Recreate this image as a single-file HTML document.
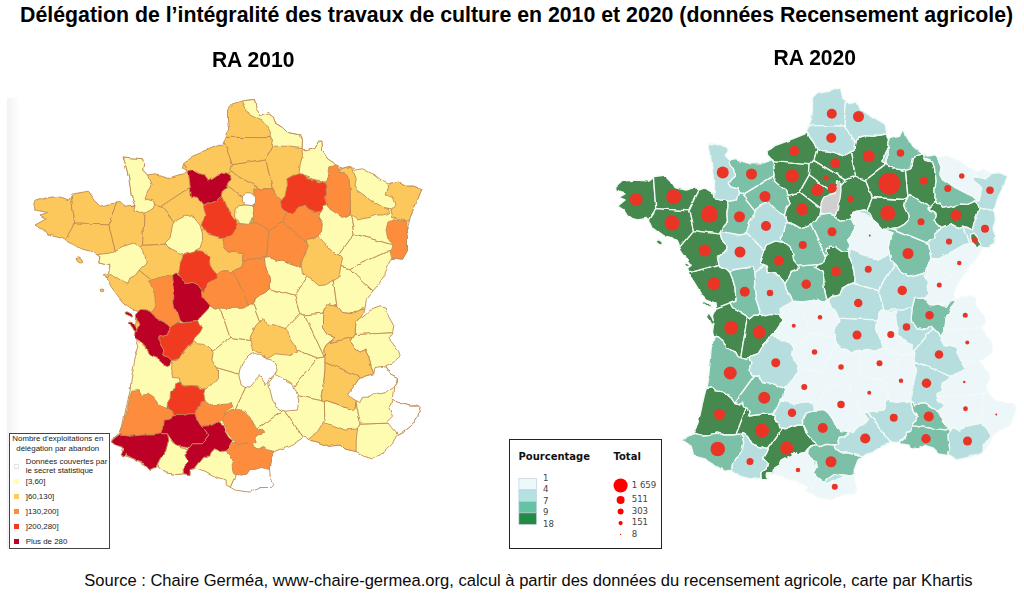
<!DOCTYPE html>
<html lang="fr">
<head>
<meta charset="utf-8">
<title>Délégation de l’intégralité des travaux de culture</title>
<style>
html,body{margin:0;padding:0;background:#fff;}
body{width:1024px;height:595px;position:relative;overflow:hidden;font-family:"Liberation Sans",sans-serif;color:#000;}
.t{position:absolute;white-space:nowrap;line-height:1;}
#title{left:20.1px;top:4.8px;font-weight:bold;font-size:21.3px;}
#ra10{left:211.9px;top:47.8px;font-weight:bold;font-size:21.1px;transform:scaleY(1.065);transform-origin:0 0;}
#ra20{left:773.6px;top:46.2px;font-weight:bold;font-size:21.1px;transform:scaleY(1.065);transform-origin:0 0;}
#src{left:84.2px;top:572.7px;font-size:16.56px;color:#0a0a0a}
#maps{position:absolute;left:0;top:0;}
#leg1{position:absolute;left:9px;top:433px;width:98.6px;height:113.6px;border:1px solid #444;background:#fff;box-sizing:content-box;}
#leg1 .t{font-size:7.9px;color:#222;}
#leg1 .sw{position:absolute;left:4px;width:5.2px;height:5.2px;}
#leg2{position:absolute;left:509px;top:439px;width:150.7px;height:108px;border:1.3px solid #222;background:#fff;}
#leg2 .t{font-family:"DejaVu Sans","Liberation Sans",sans-serif;}
#leg2 .h{font-weight:bold;font-size:10px;color:#111;}
#leg2 .n{font-size:8.6px;color:#444;}
</style>
</head>
<body>
<div id="title" class="t">Délégation de l’intégralité des travaux de culture en 2010 et 2020 (données Recensement agricole)</div>
<div id="ra10" class="t">RA 2010</div>
<div id="ra20" class="t">RA 2020</div>
<svg id="maps" width="1024" height="595" viewBox="0 0 1024 595">
<defs>
<linearGradient id="fade" x1="0" x2="1" y1="0" y2="0"><stop offset="0" stop-color="#f2f2f2"/><stop offset="1" stop-color="#ffffff"/></linearGradient>
<filter id="soft" x="-2%" y="-2%" width="104%" height="104%"><feGaussianBlur stdDeviation="0.5"/></filter>
<filter id="rough" x="-2%" y="-2%" width="104%" height="104%" color-interpolation-filters="sRGB"><feTurbulence type="fractalNoise" baseFrequency="0.07" numOctaves="3" seed="7" result="n"/><feDisplacementMap in="SourceGraphic" in2="n" scale="4" xChannelSelector="R" yChannelSelector="G"/><feGaussianBlur stdDeviation="0.65"/></filter>
</defs>
<rect x="7" y="97.5" width="13" height="451" fill="url(#fade)"/>
<g filter="url(#rough)">
<g stroke="#c08a55" stroke-width="0.9" stroke-linejoin="round">
<path d="M74.7,223.1 71.3,195.7 68.8,200.0 58.8,196.2 42.5,198.8 35.0,201.2 33.8,205.0 35.0,210.0 47.5,212.5 40.0,215.0 46.2,218.8 35.0,225.0 43.8,230.0 47.5,235.0 60.0,238.0 64.9,240.5Z" fill="#fdc85b"/>
<path d="M275.9,137.7 284.8,129.8 282.5,127.5 276.2,123.8 273.8,117.5 268.8,113.8 261.2,116.2 256.2,108.8 254.5,99.5 245.0,100.5 232.5,103.8 227.5,110.0 227.5,120.0 228.8,130.0 226.2,136.2 225.7,137.4Z" fill="#fdc85b"/>
<path d="M74.7,223.1 108.1,223.8 116.9,202.9 110.0,203.8 100.0,206.2 93.8,200.0 87.5,191.2 72.5,193.8 71.3,195.7Z" fill="#fdc85b"/>
<path d="M165.6,329.9 179.2,301.6 125.9,260.0 118.1,260.8 109.7,267.3 108.8,274.2 106.2,278.0 111.2,286.8 117.5,295.5 123.8,303.0 132.5,309.2 140.0,311.8 136.2,320.5 135.0,330.5 136.0,336.4Z" fill="#fdc85b"/>
<path d="M64.9,240.5 72.5,244.2 82.5,249.2 92.5,251.8 100.0,256.8 98.8,263.0 110.0,265.5 109.7,267.3 118.1,260.8 108.1,223.8 74.7,223.1Z" fill="#fdc85b"/>
<path d="M108.1,223.8 118.1,260.8 125.9,260.0 142.6,245.2 144.5,201.8 130.2,187.4 131.2,195.0 135.0,205.0 123.8,206.2 120.0,202.5 116.9,202.9Z" fill="#fdc85b"/>
<path d="M144.5,201.8 161.4,206.1 195.3,183.8 183.7,162.9 182.5,167.5 187.5,171.2 182.5,173.8 170.0,177.5 155.0,173.8 147.5,175.0 142.5,170.0 143.8,163.8 142.5,158.8 132.5,158.0 123.0,157.0 125.0,162.5 128.8,177.5 130.2,187.4Z" fill="#fdc85b"/>
<path d="M182.5,423.9 192.0,364.0 165.6,329.9 136.0,336.4 136.2,338.0 138.8,345.5 135.0,358.0 132.5,373.0 131.2,380.0 130.0,391.2 126.2,407.5 122.5,425.0 120.0,433.8 111.2,441.2 120.0,446.2 122.5,455.0 133.8,458.8 134.6,459.2Z" fill="#fefcb1"/>
<path d="M125.9,260.0 179.2,301.6 194.8,289.5 188.6,243.0 142.6,245.2Z" fill="#fdc85b"/>
<path d="M211.4,222.4 207.0,191.1 195.3,183.8 161.4,206.1 189.6,240.5Z" fill="#fdc85b"/>
<path d="M189.6,240.5 188.6,243.0 194.8,289.5 201.5,290.1 203.0,285.0 203.0,285.0 203.0,285.0 203.0,285.0 203.0,285.0 207.0,280.0 207.0,280.0 207.0,280.0 207.0,280.0 207.0,280.0 207.0,280.0 207.0,280.0 213.7,278.0 216.9,274.4 216.9,274.4 216.9,274.4 221.2,271.2 221.2,271.2 221.2,271.2 221.2,271.2 221.2,271.2 221.2,271.2 227.5,270.6 227.5,270.6 227.5,270.6 227.5,270.6 227.5,270.6 227.5,270.6 227.5,270.6 227.5,270.6 232.5,273.7 235.0,270.0 235.0,270.0 235.0,270.0 235.0,270.0 235.0,270.0 235.0,270.0 235.0,270.0 241.2,267.5 243.1,261.2 242.5,256.3 242.5,256.3 242.5,256.2 242.5,256.2 242.5,256.2 242.5,256.2 242.5,256.2 243.7,253.8 236.2,252.5 228.7,251.9 228.7,251.9 228.7,251.9 228.7,251.9 228.7,251.9 228.7,251.9 228.7,251.9 228.7,251.9 224.4,247.5 224.4,247.5 224.4,247.5 224.4,247.5 224.4,247.5 224.4,247.5 224.4,247.5 224.4,247.5 223.1,238.1 223.1,238.1 223.1,238.1 223.1,238.1 223.1,238.1 223.1,238.1 223.1,238.1 226.0,232.0 226.0,232.0 226.0,232.0 226.0,232.0 230.7,227.3 211.4,222.4Z" fill="#fdc85b"/>
<path d="M161.4,206.1 144.5,201.8 142.6,245.2 188.6,243.0 189.6,240.5Z" fill="#fdc85b"/>
<path d="M165.6,329.9 192.0,364.0 199.1,362.7 230.0,337.3 220.4,308.9 215.0,310.0 215.0,310.0 215.0,310.0 215.0,310.0 215.0,310.0 215.0,310.0 215.0,310.0 215.0,310.0 215.0,310.0 211.2,307.5 204.0,303.0 204.0,303.0 204.0,303.0 204.0,303.0 204.0,303.0 204.0,303.0 204.0,303.0 200.0,295.0 200.0,295.0 200.0,295.0 200.0,295.0 200.0,295.0 200.0,295.0 200.0,295.0 200.0,295.0 200.0,295.0 201.5,290.1 194.8,289.5 179.2,301.6Z" fill="#fefcb1"/>
<path d="M195.3,183.8 207.0,191.1 222.1,181.6 230.7,170.8 232.4,164.7 223.9,140.9 222.5,143.8 207.5,150.0 192.5,156.2 183.8,162.5 183.7,162.9Z" fill="#fdc85b"/>
<path d="M248.3,445.6 244.6,437.9 227.5,426.9 182.5,423.9 134.6,459.2 143.8,463.8 151.2,468.8 157.5,466.2 165.0,472.5 176.2,474.5 183.8,473.8 190.0,474.5 190.0,468.8 195.0,467.5 205.0,471.2 217.5,477.5 226.2,480.0 226.2,485.0 230.0,487.1Z" fill="#fefcb1"/>
<path d="M182.5,423.9 227.5,426.9 250.3,377.2 199.1,362.7 192.0,364.0Z" fill="#fefcb1"/>
<path d="M262.8,370.7 267.4,342.9 230.0,337.3 199.1,362.7 250.3,377.2Z" fill="#fefcb1"/>
<path d="M250.3,377.2 227.5,426.9 244.6,437.9 283.7,410.0 287.7,394.0 262.8,370.7Z" fill="#fefcb1"/>
<path d="M230.7,227.3 232.0,226.0 232.0,226.0 232.0,226.0 232.0,226.0 236.2,223.7 236.2,223.7 236.2,223.7 236.2,223.7 236.2,223.7 243.7,223.1 243.8,223.1 243.8,223.1 251.2,223.7 252.5,220.0 253.1,215.0 253.7,207.5 253.7,207.5 253.7,207.5 254.2,205.6 222.1,181.6 207.0,191.1 211.4,222.4Z" fill="#fdc85b"/>
<path d="M230.0,337.3 267.4,342.9 267.5,342.7 252.7,303.5 246.3,305.0 245.0,307.5 245.0,307.5 245.0,307.5 245.0,307.5 245.0,307.5 245.0,307.5 245.0,307.5 245.0,307.5 245.0,307.5 245.0,307.5 241.9,308.1 241.9,308.1 241.9,308.1 233.8,308.1 228.8,309.4 228.8,309.4 228.8,309.4 228.7,309.4 221.3,308.8 220.4,308.9Z" fill="#fefcb1"/>
<path d="M267.5,342.7 273.7,340.5 299.7,313.6 294.8,296.2 269.4,288.6 269.4,288.8 269.4,288.8 269.4,288.8 269.4,288.8 269.4,288.8 269.4,288.8 269.4,288.8 269.4,288.8 269.4,288.8 269.4,288.8 265.0,292.5 265.0,292.5 265.0,292.5 260.0,295.0 255.0,298.8 254.4,303.1 254.4,303.1 254.4,303.1 254.4,303.1 254.4,303.1 254.4,303.1 254.4,303.1 254.4,303.1 254.4,303.1 254.4,303.1 254.4,303.1 254.4,303.1 254.4,303.1 252.7,303.5Z" fill="#fefcb1"/>
<path d="M267.4,342.9 262.8,370.7 287.7,394.0 288.4,393.8 317.8,358.1 273.7,340.5 267.5,342.7Z" fill="#fefcb1"/>
<path d="M294.8,296.2 317.0,260.6 306.5,248.7 305.0,252.5 304.4,255.0 304.4,255.0 301.9,262.5 301.9,262.5 300.0,267.5 300.0,267.5 300.0,267.5 300.0,267.5 300.0,267.5 300.0,267.5 300.0,267.5 300.0,267.5 300.0,267.5 300.0,267.5 300.0,267.5 300.0,267.5 300.0,267.5 300.0,267.5 300.0,267.5 300.0,267.5 300.0,267.5 300.0,267.5 300.0,267.5 296.2,265.0 288.7,262.5 288.7,262.5 282.5,260.0 277.5,260.6 277.5,260.6 277.5,260.6 277.5,260.6 277.5,260.6 277.5,260.6 270.0,257.5 264.4,258.1 265.0,265.0 267.5,272.5 267.5,272.5 269.4,280.0 269.4,280.0 269.4,280.0 269.4,280.0 269.4,288.6Z" fill="#fefcb1"/>
<path d="M230.7,170.8 222.1,181.6 254.2,205.6 255.0,202.5 255.0,189.4 255.0,189.4 255.0,189.4 255.0,189.4 255.0,189.4 255.0,189.4 255.0,189.4 255.0,189.4 255.0,189.4 255.0,189.4 255.0,189.4 255.0,189.4 255.0,189.4 255.0,189.4 255.0,189.4 255.0,189.4 260.5,188.9Z" fill="#fdc85b"/>
<path d="M260.5,188.9 262.5,188.7 262.5,188.7 272.3,188.7 266.0,158.8 232.4,164.7 230.7,170.8Z" fill="#fdc85b"/>
<path d="M275.9,137.7 225.7,137.4 223.9,140.9 232.4,164.7 266.0,158.8Z" fill="#fdc85b"/>
<path d="M266.0,158.8 272.3,188.7 272.5,188.7 272.5,188.7 272.5,188.7 272.5,188.7 272.5,188.7 272.5,188.7 272.5,188.7 272.5,188.7 272.5,188.7 272.5,188.7 272.5,188.7 272.5,188.7 275.0,193.7 280.0,198.7 280.0,198.7 280.0,198.7 280.0,198.7 281.9,202.5 290.0,200.0 290.0,200.0 290.0,200.0 290.0,200.0 300.0,200.0 300.0,200.0 300.0,200.0 300.0,200.0 306.4,202.1 329.2,183.8 333.8,163.0 327.5,158.8 322.5,151.2 322.0,141.2 318.8,141.2 315.0,147.5 305.0,150.0 302.0,147.5 302.5,140.0 300.0,135.0 287.5,132.5 284.8,129.8 275.9,137.7Z" fill="#fdc85b"/>
<path d="M248.3,445.6 230.0,487.1 235.0,490.0 250.0,492.0 260.0,487.5 271.2,487.5 273.8,485.0 270.0,475.0 269.5,467.5 270.8,459.8Z" fill="#ffffff"/>
<path d="M283.7,410.0 244.6,437.9 248.3,445.6 270.8,459.8 271.2,457.5 275.0,451.2 287.5,446.2 297.5,441.2 303.5,437.3Z" fill="#fefcb1"/>
<path d="M360.3,424.1 356.0,401.5 355.0,407.5 355.0,407.5 355.0,407.5 355.0,407.5 355.0,407.5 355.0,407.5 355.0,407.5 352.5,410.0 352.5,410.0 352.5,410.0 352.5,410.0 352.5,410.0 352.5,410.0 352.5,410.0 352.5,410.0 352.5,410.0 352.5,410.0 352.5,410.0 352.5,410.0 352.5,410.0 342.5,406.3 342.5,406.3 330.0,401.3 324.3,402.2 325.4,444.8 328.8,446.2 340.0,445.0 343.8,448.8ZM353.3,387.3 350.0,393.7 355.6,399.3Z" fill="#fefcb1"/>
<path d="M288.4,393.8 322.1,400.8 321.2,396.3 321.2,396.3 321.2,396.3 321.2,396.2 321.2,396.2 323.7,382.5 325.0,370.0 325.0,357.5 324.9,356.8 324.2,356.7 317.8,358.1Z" fill="#fefcb1"/>
<path d="M299.7,313.6 304.8,315.0 323.2,313.0 323.7,310.0 323.7,310.0 323.7,310.0 323.7,310.0 323.7,310.0 323.7,310.0 328.7,303.7 328.7,303.7 328.7,303.7 328.7,303.7 328.7,303.7 328.7,303.7 328.7,303.7 328.7,303.7 328.7,303.7 328.7,303.7 328.8,303.7 328.8,303.7 336.3,305.0 336.3,305.0 336.3,305.0 336.3,305.0 336.3,305.0 336.3,305.0 336.3,305.0 336.3,305.0 336.8,305.7 331.3,264.6 317.0,260.6 294.8,296.2Z" fill="#fefcb1"/>
<path d="M329.2,183.8 348.8,202.1 412.1,212.5 413.8,207.5 418.8,197.5 422.0,189.5 413.8,186.2 405.0,186.2 397.5,181.2 387.5,183.8 380.0,180.0 372.5,173.8 362.5,168.8 355.0,170.0 350.0,166.2 341.2,168.8 337.5,165.0 335.0,163.8 333.8,163.0Z" fill="#fefcb1"/>
<path d="M329.2,183.8 306.4,202.1 315.0,205.0 315.0,205.0 315.0,205.0 322.0,209.0 322.0,209.0 322.0,209.0 322.0,209.0 322.0,209.0 322.0,209.0 322.0,209.0 322.0,209.0 322.0,209.0 322.0,209.0 322.0,209.0 322.0,209.0 322.0,209.0 322.0,209.0 322.0,209.0 321.3,211.3 321.3,211.3 321.3,211.3 321.3,211.3 318.5,215.0 323.1,222.5 323.1,222.5 323.1,222.5 323.1,222.5 323.1,222.5 323.1,222.5 323.1,222.5 322.5,230.0 322.5,230.0 322.5,230.0 322.5,230.0 322.5,230.0 322.5,230.0 322.5,230.0 318.8,235.0 318.8,235.0 318.8,235.0 318.8,235.0 315.0,237.5 315.0,237.5 315.0,237.5 315.0,237.5 306.3,240.0 307.5,246.2 307.5,246.2 307.5,246.2 307.5,246.3 307.5,246.3 307.5,246.3 307.5,246.3 306.5,248.7 317.0,260.6 331.3,264.6 332.1,264.4 354.1,233.9 348.8,202.1Z" fill="#fefcb1"/>
<path d="M287.7,394.0 283.7,410.0 303.5,437.3 305.0,436.2 308.8,440.0 320.0,442.5 325.4,444.8 324.3,402.2 322.5,402.5 322.5,402.5 322.5,402.5 322.5,402.5 322.5,402.5 322.5,402.5 322.5,402.5 322.5,402.5 322.5,402.5 322.5,402.5 322.5,402.5 322.5,402.5 322.5,402.5 322.5,402.5 322.5,402.5 322.5,402.5 322.5,402.5 322.1,400.8 288.4,393.8Z" fill="#fefcb1"/>
<path d="M273.7,340.5 317.8,358.1 324.2,356.7 304.8,315.0 299.7,313.6Z" fill="#fefcb1"/>
<path d="M360.3,424.1 343.8,448.8 345.0,450.0 356.2,452.5 362.5,456.2 372.5,458.8 380.0,456.2 386.2,450.0 392.5,443.8 396.2,435.0 405.0,430.0 412.5,423.8 413.4,422.3Z" fill="#fefcb1"/>
<path d="M304.8,315.0 324.2,356.7 324.9,356.8 323.7,350.0 323.7,350.0 323.7,350.0 323.7,350.0 323.7,350.0 323.7,350.0 323.7,350.0 326.2,345.0 326.2,345.0 326.2,345.0 326.2,345.0 326.2,345.0 335.0,337.5 327.5,335.0 327.5,335.0 327.5,335.0 327.5,335.0 327.5,335.0 327.5,335.0 327.5,335.0 327.5,335.0 322.5,327.5 322.5,327.5 322.5,327.5 322.5,327.5 322.5,327.5 322.5,327.5 322.5,327.5 322.5,317.5 322.5,317.5 322.5,317.5 323.2,313.0Z" fill="#fefcb1"/>
<path d="M365.3,305.7 366.2,299.2 371.2,293.0 373.0,290.9 349.6,268.6 332.1,264.4 331.3,264.6 336.8,305.7 342.5,312.5 352.5,313.7 360.0,310.0 360.0,310.0 360.0,310.0 360.2,309.9Z" fill="#fefcb1"/>
<path d="M364.2,376.8 357.5,381.3 353.8,386.3 353.3,387.3 355.6,399.3 356.3,400.0 356.3,400.0 356.3,400.0 356.3,400.0 356.3,400.0 356.3,400.0 356.3,400.0 356.3,400.0 356.3,400.0 356.3,400.0 356.3,400.0 356.0,401.5 360.3,424.1 413.4,422.3 417.5,416.2 420.0,407.5 417.5,405.0 410.0,406.2 400.0,403.8 392.5,398.8 393.8,387.5 397.5,382.5 397.5,378.6Z" fill="#fefcb1"/>
<path d="M354.1,233.9 398.1,246.5 407.5,246.0 407.5,238.0 406.2,230.0 408.8,222.5 412.1,212.5 348.8,202.1Z" fill="#fefcb1"/>
<path d="M360.2,309.9 364.8,308.8 364.8,308.8 364.8,308.8 364.8,308.8 364.8,308.8 364.8,308.8 365.0,308.0 365.3,305.7ZM392.7,332.8 393.8,326.8 388.8,318.0 386.2,308.0 380.0,306.8 370.0,310.5 366.2,314.2 360.5,318.5 361.4,317.0 356.3,321.3 355.0,332.5 355.0,332.5 355.0,332.5 355.0,332.5 355.0,332.5 353.8,334.7Z" fill="#fefcb1"/>
<path d="M398.1,246.5 349.6,268.6 373.0,290.9 377.5,285.5 383.8,275.5 388.8,265.5 392.5,258.0 402.5,259.2 407.5,250.5 407.5,246.0Z" fill="#fefcb1"/>
<path d="M353.8,334.7 350.0,341.2 355.0,347.5 360.0,351.2 365.0,348.7 365.0,348.7 365.0,348.7 365.0,348.7 365.0,348.7 365.0,348.7 365.0,348.7 365.0,348.7 365.0,348.7 365.0,348.7 365.0,348.7 365.0,348.7 365.0,348.7 365.0,348.7 365.0,348.7 365.0,348.7 365.0,348.7 368.8,356.2 368.8,356.2 368.8,356.2 371.3,367.5 373.8,373.7 373.8,373.7 373.8,373.7 373.8,373.7 373.8,373.8 373.8,373.8 373.8,373.8 373.8,373.8 373.8,373.8 373.8,373.8 373.8,373.8 373.8,373.8 373.8,373.8 373.8,373.8 373.8,373.8 373.8,373.8 373.8,373.8 373.8,373.8 365.0,376.3 364.2,376.8 397.5,378.6 397.5,377.5 390.0,373.8 385.0,366.2 392.5,362.5 398.8,357.5 400.0,355.5 398.8,350.5 391.2,340.5 388.8,338.0 392.5,334.2 392.7,332.8Z" fill="#fefcb1"/>
<path d="M398.1,246.5 354.1,233.9 332.1,264.4 349.6,268.6Z" fill="#fefcb1"/>
<path d="M233.9,271.7 232.5,273.8 227.5,270.6 221.2,271.2 216.9,274.4 213.8,278.0 207.0,280.0 203.0,285.0 200.0,295.0 204.0,303.0 211.2,307.5 215.0,310.0 221.2,308.8 228.8,309.4 233.8,308.1 241.9,308.1 245.0,307.5 246.2,305.0 248.3,304.5Z" fill="#fd8d3c"/>
<path d="M266.4,257.4 242.9,260.0 243.1,261.2 241.2,267.5 235.0,270.0 233.9,271.7 248.3,304.5 254.4,303.1 255.0,298.8 260.0,295.0 265.0,292.5 269.4,288.8 269.4,280.0 267.5,272.5 265.0,265.0 264.4,258.1 266.9,257.8Z" fill="#fd8d3c"/>
<path d="M266.4,257.4 269.0,230.3 252.2,220.9 251.2,223.8 243.8,223.1 236.2,223.8 232.0,226.0 226.0,232.0 223.1,238.1 224.4,247.5 228.8,251.9 236.2,252.5 243.8,253.8 242.5,256.2 242.9,260.0Z" fill="#fd8d3c"/>
<path d="M282.8,222.7 269.0,230.3 266.4,257.4 266.9,257.8 270.0,257.5 277.5,260.6 282.5,260.0 288.8,262.5 296.2,265.0 300.0,267.5 301.9,262.5 304.4,255.0 305.0,252.5 307.5,246.2 306.7,242.4Z" fill="#fd8d3c"/>
<path d="M269.0,230.3 282.8,222.7 291.1,200.0 290.0,200.0 281.9,202.5 280.0,198.8 275.0,193.8 272.5,188.8 262.5,188.8 255.0,189.4 255.0,193.8 255.0,202.5 253.8,207.5 253.1,215.0 252.5,220.0 252.2,220.9Z" fill="#fd8d3c"/>
<path d="M282.8,222.7 306.7,242.4 306.2,240.0 315.0,237.5 318.8,235.0 322.5,230.0 323.1,222.5 318.5,215.0 321.2,211.2 322.0,209.0 315.0,205.0 300.0,200.0 291.1,200.0Z" fill="#fd8d3c"/>
<path d="M325.0,361.3 325.0,370.0 323.8,382.5 321.2,396.2 322.5,402.5 330.0,401.2 342.5,406.2 352.5,410.0 355.0,407.5 356.2,400.0 350.0,393.8 353.8,386.2 357.5,381.2 362.1,378.2Z" fill="#fdc85b"/>
<path d="M329.0,342.7 326.2,345.0 323.8,350.0 325.0,357.5 325.0,361.3 362.1,378.2 365.0,376.2 373.8,373.8 371.2,367.5 368.8,356.2 365.0,348.8 360.0,351.2 355.0,347.5 350.0,341.2 352.2,337.5Z" fill="#fdc85b"/>
<path d="M352.2,337.5 355.0,332.5 356.2,321.2 361.4,316.9 363.8,313.0 364.8,308.8 360.0,310.0 352.5,313.8 342.5,312.5 336.2,305.0 328.8,303.8 323.8,310.0 322.5,317.5 322.5,327.5 327.5,335.0 335.0,337.5 329.0,342.7Z" fill="#fdc85b"/>
<path d="M246.2,108.8 250.0,115.0 257.5,118.8 262.5,121.2 266.2,125.0 270.0,132.5 272.5,140.0 271.2,146.2 280.0,146.2 290.0,146.2 302.0,147.5 302.5,140.0 300.0,135.0 287.5,132.5 282.5,127.5 276.2,123.8 273.8,117.5 268.8,113.8 261.2,116.2 256.2,108.8 254.5,99.5 245.0,100.5 242.5,101.1 242.5,101.2Z" fill="#fefcb1"/>
<path d="M302.5,155.0 300.0,165.0 298.8,175.0 305.0,176.2 315.0,180.0 326.2,181.2 327.5,175.0 335.0,170.0 338.1,165.6 337.5,165.0 335.0,163.8 327.5,158.8 322.5,151.2 322.0,141.2 318.8,141.2 315.0,147.5 305.0,150.0 302.0,147.5Z" fill="#fefcb1"/>
<path d="M131.0,206.0 135.0,205.0 130.9,205.5ZM133.8,210.0 140.0,212.5 150.0,211.2 155.0,207.5 153.8,201.2 145.0,198.8 147.5,192.5 151.2,185.0 147.5,175.0 142.5,170.0 143.8,163.8 142.5,158.8 132.5,158.0 123.0,157.0 125.0,162.5 128.8,177.5 131.2,195.0 135.0,205.0Z" fill="#fefcb1"/>
<path d="M172.5,225.0 170.0,238.0 165.0,243.0 170.0,249.2 180.0,254.2 192.5,251.8 200.0,248.0 202.5,240.5 202.5,233.8 200.0,225.0 193.8,217.5 185.0,215.0 175.0,220.0Z" fill="#fefcb1"/>
<path d="M97.8,255.3 100.0,256.8 98.8,263.0 110.0,265.5 108.8,274.2 106.2,278.0 106.4,278.2 110.0,275.5 117.5,278.0 122.5,281.8 127.5,284.2 130.0,278.0 135.0,275.5 140.0,269.2 146.2,263.0 145.0,255.5 140.0,246.8 132.5,243.0 120.0,248.0 110.0,253.0 98.0,254.5Z" fill="#fefcb1"/>
<path d="M355.0,400.0 360.0,402.5 362.5,396.2 370.0,396.2 375.0,392.5 380.0,393.8 386.2,392.5 392.5,388.8 396.2,383.8 397.5,377.5 390.0,373.8 387.5,370.0 383.8,366.2 375.0,367.5 373.8,373.8 365.0,376.2 357.5,381.2 353.8,386.2 347.5,395.0Z" fill="#ffffff"/>
<path d="M392.5,416.2 387.5,421.2 392.5,427.5 397.5,433.8 405.0,430.0 412.5,423.8 417.5,416.2 420.0,407.5 418.8,406.2 410.0,406.2 400.0,403.8 393.4,399.4 388.8,407.5Z" fill="#ffffff"/>
<path d="M238.8,375.0 240.0,380.0 241.2,385.0 245.0,387.5 250.0,388.1 253.8,383.8 256.2,378.8 260.0,375.6 262.5,380.0 266.2,385.0 268.8,380.0 272.5,376.2 278.0,372.5 277.5,367.5 275.0,362.5 271.2,360.0 267.5,358.8 258.8,355.0 253.8,352.5 250.0,355.0 246.2,358.8 242.5,363.8 240.0,368.8Z" fill="#ffffff"/>
<path d="M270.0,390.0 272.5,400.0 277.5,407.5 285.0,411.2 297.5,410.0 298.8,400.0 296.2,391.2 291.2,383.8 282.5,378.8 275.0,375.0 268.8,382.5Z" fill="#ffffff"/>
<path d="M253.8,350.0 260.0,353.8 267.5,358.8 275.0,353.8 287.5,355.0 297.5,351.2 295.0,345.0 290.0,337.5 286.2,328.8 275.0,325.0 266.2,323.8 263.8,317.5 256.2,325.0 250.0,337.5Z" fill="#fdc85b"/>
<path d="M356.2,440.0 357.5,428.8 345.0,430.0 332.5,425.0 323.8,422.5 317.5,432.5 308.8,440.0 320.0,442.5 328.8,446.2 340.0,445.0 345.0,450.0 356.2,452.5Z" fill="#fdc85b"/>
<path d="M190.0,344.4 185.0,350.0 181.2,355.0 176.9,360.6 171.9,362.5 173.1,365.0 171.9,372.5 172.5,377.5 179.4,378.1 180.0,381.2 183.8,385.6 190.0,386.2 197.5,385.6 202.5,389.4 206.2,388.8 212.5,383.8 217.5,377.5 217.5,370.0 215.0,365.6 211.9,360.0 213.1,353.1 208.8,348.8 203.8,344.4 197.5,343.8 193.8,340.6Z" fill="#fdc85b"/>
<path d="M307.5,246.2 305.0,252.5 302.5,258.8 301.2,265.0 302.5,273.8 307.5,277.5 313.8,281.2 318.8,285.6 325.0,285.0 332.5,281.2 338.8,277.5 340.0,271.2 341.2,265.0 342.5,257.5 340.0,255.0 333.8,252.5 327.5,248.8 326.2,243.8 321.2,238.1 318.8,235.0 315.0,237.5 306.2,240.0Z" fill="#fdc85b"/>
<path d="M340.0,172.5 345.0,173.1 348.8,178.8 350.0,188.8 350.0,197.5 350.6,213.8 355.0,216.2 357.5,220.0 362.5,218.8 370.0,217.5 376.2,215.0 382.5,215.0 387.5,213.8 390.6,211.9 388.8,210.0 382.5,207.5 376.2,203.8 370.0,200.0 365.0,195.0 357.5,190.0 355.0,185.0 356.2,178.8 353.8,172.5 351.2,167.5 347.0,167.1 341.2,168.8Z" fill="#fdc85b"/>
<path d="M386.2,195.0 392.5,197.5 395.0,205.0 391.2,210.0 392.5,217.5 400.0,220.0 408.8,221.2 410.3,217.8 413.8,207.5 418.8,197.5 422.0,189.5 413.8,186.2 405.0,186.2 397.5,181.2 389.2,183.3 387.5,190.0Z" fill="#fdc85b"/>
<path d="M152.5,288.8 155.0,297.5 155.6,305.0 153.8,308.8 151.2,313.8 156.2,318.8 162.5,321.9 168.1,325.0 170.0,327.5 176.2,322.5 180.0,322.0 180.0,316.0 176.0,300.0 176.0,282.0 171.9,276.9 166.2,276.2 158.8,277.5 149.4,281.2Z" fill="#fd8d3c"/>
<path d="M386.0,230.0 388.0,238.0 392.0,245.0 390.0,252.0 392.5,258.0 402.5,259.2 407.5,250.5 407.5,238.0 406.2,230.0 407.0,222.0 395.0,220.0 388.0,222.0Z" fill="#fd8d3c"/>
<path d="M223.8,425.0 226.2,431.2 230.0,436.2 235.0,441.9 238.8,445.0 245.0,443.1 252.5,443.8 256.2,442.5 255.0,438.8 256.2,435.0 261.2,434.4 265.6,431.9 263.8,429.4 257.5,429.4 253.8,425.0 250.0,417.5 245.0,412.5 238.8,409.4 231.9,410.6 225.0,413.1 221.2,420.0Z" fill="#fd8d3c"/>
<path d="M230.0,455.0 233.8,461.2 231.2,467.5 232.5,472.5 240.0,476.2 246.2,475.0 250.0,469.5 255.0,469.4 261.2,467.5 269.4,469.4 269.4,465.0 270.7,460.6 271.2,457.5 274.7,451.8 267.5,449.4 263.1,447.5 258.8,450.0 253.8,448.1 252.5,443.8 245.0,443.1 238.8,445.0 235.0,442.5 230.0,445.0 225.0,450.0Z" fill="#fd8d3c"/>
<path d="M130.0,396.2 127.5,407.5 125.0,418.8 122.5,427.5 120.0,434.4 130.0,436.2 142.5,435.0 155.0,435.0 160.6,433.8 162.5,427.5 163.1,419.4 170.0,418.1 173.8,415.6 172.5,411.2 166.9,407.5 163.8,406.2 158.8,405.0 155.0,399.4 147.5,394.4 140.0,395.0 138.1,390.6 131.9,391.2Z" fill="#fd8d3c"/>
<path d="M196.2,417.5 198.8,422.5 201.2,426.2 205.0,425.0 211.2,426.2 217.5,422.5 222.5,418.8 225.0,412.5 233.0,407.5 231.2,402.5 221.2,403.8 212.5,405.0 205.0,399.4 201.2,401.9 200.0,406.2 196.2,410.0 195.0,413.8Z" fill="#fd8d3c"/>
<path d="M327.5,176.2 325.0,181.2 326.9,186.2 327.5,193.1 325.0,197.5 325.6,202.5 327.5,207.5 335.0,212.5 342.5,217.5 350.0,213.8 350.6,210.0 350.0,197.5 350.0,188.8 348.8,178.8 345.0,173.1 340.0,172.5 338.3,165.8 337.6,165.1 328.8,166.9Z" fill="#fd8d3c"/>
<path d="M168.8,440.0 167.5,445.0 166.2,450.0 163.8,453.8 160.0,458.8 157.5,463.8 158.7,467.2 160.5,468.8 166.0,472.7 176.2,474.5 182.6,473.9 183.1,473.8 183.8,467.5 188.1,462.5 185.0,455.0 188.8,448.8 180.0,446.2 172.5,442.5 170.0,436.2 167.5,433.8Z" fill="#fefcb1"/>
<path d="M206.2,215.0 203.8,218.0 201.2,225.0 207.5,233.8 220.0,237.5 228.0,236.5 233.8,232.5 236.2,227.5 236.9,221.2 233.8,217.5 230.0,212.5 226.2,205.0 223.8,198.8 221.2,196.2 217.5,201.2 210.0,203.1 203.1,205.6Z" fill="#f03b20"/>
<path d="M189.4,181.2 190.6,189.4 191.2,196.2 197.5,197.5 200.6,203.1 203.1,205.6 210.0,203.1 217.5,201.2 221.2,196.2 222.5,190.0 226.2,188.1 228.1,182.5 231.2,179.4 230.6,175.6 226.9,173.1 220.6,171.9 216.2,175.6 209.4,180.0 205.6,175.0 200.0,173.8 193.8,170.6 188.1,171.9Z" fill="#bd0026"/>
<path d="M287.5,185.0 286.2,190.0 285.0,196.2 280.6,201.2 281.2,206.2 285.0,211.2 292.5,213.1 298.8,206.9 305.0,205.6 307.5,210.0 313.8,212.5 321.2,211.2 323.8,206.9 327.5,205.0 325.6,202.5 325.0,197.5 327.5,193.1 326.9,186.2 325.0,181.2 317.5,181.9 313.8,180.0 307.5,178.8 302.5,175.0 293.8,175.0 286.9,178.8Z" fill="#f03b20"/>
<path d="M181.9,260.0 179.4,266.2 177.5,273.1 180.0,276.2 183.8,280.0 185.0,283.8 193.1,282.5 198.1,285.0 202.5,291.2 205.0,292.5 207.5,283.8 211.9,280.6 216.2,278.1 216.2,273.8 212.5,269.4 210.0,265.0 209.4,258.8 206.2,255.0 202.5,251.2 196.2,250.6 189.4,252.5 183.1,254.4Z" fill="#f03b20"/>
<path d="M173.1,281.2 174.4,287.5 173.8,296.2 173.8,303.8 175.0,308.8 178.1,313.8 180.0,320.0 185.0,323.1 190.0,321.2 197.5,320.6 200.0,317.5 206.2,311.2 210.6,306.2 207.5,302.5 203.1,297.5 202.5,291.2 198.1,285.0 193.1,282.5 185.0,283.8 183.8,280.0 180.0,276.2 176.2,273.8 172.5,276.2Z" fill="#bd0026"/>
<path d="M141.2,309.4 136.2,315.0 136.9,319.4 138.8,325.0 136.9,330.0 135.0,333.1 134.4,337.5 138.1,340.0 142.5,343.1 147.5,348.8 148.8,352.5 151.2,355.0 157.5,357.5 158.8,361.2 162.5,363.8 167.5,365.6 171.2,363.8 171.2,360.0 168.8,357.5 163.8,355.0 165.0,350.0 162.5,346.2 160.0,341.2 160.0,336.2 165.0,335.0 168.8,333.8 170.0,327.5 168.1,325.0 162.5,321.9 156.2,318.8 151.2,313.8 147.5,310.0Z" fill="#bd0026"/>
<path d="M168.8,333.8 165.0,335.0 160.0,336.2 160.0,341.2 162.5,346.2 165.0,350.0 163.8,355.0 168.8,357.5 171.2,360.0 173.8,361.2 178.8,358.8 181.2,355.0 184.4,350.0 187.5,346.2 191.9,341.2 196.2,336.2 200.0,332.5 202.5,327.5 199.4,325.0 197.5,320.6 190.0,321.2 185.0,323.1 176.2,322.5 170.0,327.5Z" fill="#f03b20"/>
<path d="M175.0,388.8 170.6,392.5 170.0,398.8 167.5,402.5 166.9,407.5 172.5,411.2 173.8,415.6 182.5,415.6 190.0,413.8 195.0,413.8 196.2,410.0 200.0,406.2 201.2,401.9 205.0,399.4 203.8,393.8 205.0,388.8 200.0,389.4 197.5,386.2 191.2,385.6 183.8,386.2 180.0,381.9 175.6,383.8Z" fill="#f03b20"/>
<path d="M162.5,427.5 160.6,433.8 167.5,433.8 170.0,437.5 172.5,441.2 176.2,445.0 185.0,446.2 190.0,447.5 192.5,443.8 201.2,443.8 205.0,440.0 208.8,435.0 205.0,430.0 201.2,426.2 198.8,422.5 196.2,417.5 195.0,413.8 190.0,413.8 182.5,415.6 173.8,415.6 170.0,418.1 163.1,419.4Z" fill="#bd0026"/>
<path d="M120.0,435.0 115.0,438.8 111.2,441.9 116.2,445.6 121.2,446.9 122.5,450.0 120.0,455.0 123.8,456.9 125.0,454.4 133.8,458.8 143.8,462.5 150.0,469.4 156.2,467.5 157.5,463.8 160.0,458.8 163.8,453.8 166.2,450.0 167.5,445.0 168.8,440.0 167.5,433.8 160.6,433.8 155.0,435.0 142.5,435.0 130.0,436.2Z" fill="#bd0026"/>
<path d="M205.0,430.0 208.8,435.0 205.0,440.0 201.2,443.8 192.5,443.8 188.8,448.8 185.0,455.0 188.1,462.5 183.1,468.1 183.7,473.8 183.8,473.8 189.2,474.4 190.0,474.4 190.0,468.8 195.0,467.5 198.8,462.5 203.8,456.2 208.8,456.2 210.0,452.5 213.8,448.8 217.5,450.6 225.0,450.0 230.0,445.0 232.5,440.6 228.8,437.5 225.0,431.2 221.2,423.8 217.5,421.9 211.2,425.6 201.2,426.2Z" fill="#bd0026"/>
<path d="M242.5,196.0 242.5,201.0 245.0,205.0 252.0,205.6 255.5,203.0 255.6,197.0 252.0,194.0 246.0,193.8Z" fill="#ffffff"/>
<path d="M238.0,206.0 236.0,210.0 235.6,217.0 240.0,223.5 249.0,224.4 252.0,218.0 253.8,210.0 252.0,205.6 245.0,205.0Z" fill="#fefcb1"/>
<path d="M125.0,312.5 125.5,314.0 129.0,315.6 133.0,317.2 133.8,316.0 131.0,313.8 127.0,311.8Z" fill="#bd0026"/>
<path d="M129.4,322.5 130.0,325.0 132.0,328.0 134.5,332.0 136.9,332.5 136.5,329.0 134.0,325.0 131.5,322.0Z" fill="#bd0026"/>
<path d="M76.0,258.5 77.0,261.0 80.0,263.0 82.5,262.5 82.0,260.0 79.0,257.8Z" fill="#fdc85b"/>
<path d="M103.5,275.5 104.5,278.0 107.5,279.0 108.5,277.5 106.0,275.0Z" fill="#fdc85b"/>
<path d="M100.0,289.5 101.0,291.8 104.0,291.0 103.0,289.0Z" fill="#fdc85b"/>
</g>
<g stroke="#f2faf7" stroke-width="1.35" stroke-linejoin="round">
<path d="M655.8,208.7 653.5,177.7 648.8,181.2 637.5,180.0 622.5,181.2 615.5,187.5 616.2,191.2 625.0,193.8 618.8,197.5 625.0,200.0 617.5,206.2 623.8,210.0 627.5,216.2 637.5,218.8 646.2,217.5 648.3,220.2Z" fill="#46894f"/>
<path d="M655.8,208.7 689.0,210.9 699.3,189.8 692.5,188.0 685.0,190.0 675.0,187.5 671.2,181.2 666.2,176.2 653.8,177.5 653.5,177.7Z" fill="#46894f"/>
<path d="M693.5,230.6 689.0,210.9 655.8,208.7 648.3,220.2 650.0,222.5 652.5,228.0 662.5,235.5 672.5,238.0 677.5,241.8 679.7,247.1Z" fill="#46894f"/>
<path d="M730.1,302.8 730.0,302.5 736.2,300.0 735.6,297.5 735.0,287.5 732.5,278.8 730.0,272.5 726.2,268.8 720.0,266.2 719.1,264.4 689.1,272.8 690.0,275.5 696.2,285.5 701.2,294.2 707.5,300.5 715.0,303.0 716.0,308.0 715.8,308.4Z" fill="#46894f"/>
<path d="M689.0,210.9 693.5,230.6 720.5,234.1 720.0,231.9 723.1,226.2 727.5,221.2 726.9,213.8 728.1,206.2 727.5,200.6 721.2,200.0 715.6,198.8 713.9,193.0 710.0,191.2 705.0,188.0 700.0,190.0 699.3,189.8Z" fill="#46894f"/>
<path d="M679.7,247.1 680.0,248.0 685.0,255.5 687.5,260.5 691.2,265.5 687.5,268.0 689.1,272.8 719.1,264.4 718.8,263.8 717.5,256.2 723.8,253.8 726.9,250.0 726.9,246.2 723.1,242.5 721.2,237.5 720.5,234.1 693.5,230.6Z" fill="#46894f"/>
<path d="M747.4,316.5 746.2,315.6 740.0,311.9 732.5,307.5 730.1,302.8 715.8,308.4 712.5,315.5 713.5,324.0 712.5,333.0 713.5,336.9 716.9,336.5 722.5,341.2 726.9,347.5 730.0,349.4 736.2,351.9 737.5,355.0 740.8,357.5Z" fill="#46894f"/>
<path d="M740.8,357.5 742.5,358.8 746.2,360.6 750.0,357.5 752.5,355.6 757.5,353.8 761.2,347.5 767.5,341.2 770.0,336.2 776.2,330.6 780.0,325.0 783.1,321.9 780.6,318.8 779.4,314.4 777.5,315.0 770.0,314.4 765.0,315.6 755.0,315.0 750.6,318.8 747.4,316.5Z" fill="#46894f"/>
<path d="M763.1,252.0 761.2,257.5 759.4,263.1 766.2,266.2 767.5,272.5 775.0,273.8 780.0,276.2 785.0,283.8 788.8,277.5 791.2,272.5 797.5,270.0 798.8,266.2 793.8,260.0 792.5,253.8 790.0,247.5 783.8,242.5 775.0,241.2 766.2,245.0Z" fill="#46894f"/>
<path d="M828.1,253.8 825.6,256.2 823.8,261.9 817.5,263.8 815.0,267.5 821.9,271.2 823.8,278.8 823.8,286.2 825.6,295.0 827.5,300.6 831.2,296.9 838.8,295.0 841.2,288.8 847.5,285.0 853.8,282.5 854.4,273.8 852.5,265.0 849.4,257.5 848.8,251.2 842.5,251.2 836.2,246.9 831.2,246.2 826.2,248.8Z" fill="#46894f"/>
<path d="M799.7,191.8 787.2,195.5 790.0,202.5 786.2,208.8 784.4,215.0 786.2,221.2 790.0,222.5 795.0,225.0 800.0,228.1 806.2,226.2 811.2,223.8 816.9,221.2 820.0,216.2 820.6,211.9 822.5,213.8 827.4,213.4Z" fill="#46894f"/>
<path d="M799.7,191.8 809.4,174.7 810.1,164.7 772.7,161.7 773.8,167.5 775.0,175.0 774.4,181.2 778.8,185.0 785.0,190.0 787.0,195.0 787.2,195.5Z" fill="#46894f"/>
<path d="M799.7,191.8 827.4,213.4 828.5,213.3 834.1,193.3 809.4,174.7Z" fill="#46894f"/>
<path d="M810.1,164.7 813.8,160.3 817.3,148.5 816.2,148.1 813.8,142.5 810.0,137.5 806.3,131.2 805.0,133.8 790.0,140.0 775.0,145.5 767.0,151.2 767.5,155.0 772.5,160.5 772.3,160.6 772.5,160.6 772.7,161.7Z" fill="#46894f"/>
<path d="M872.3,197.5 865.5,180.3 855.4,176.0 846.0,179.9 834.1,193.3 828.5,213.3 831.2,213.1 835.0,214.4 836.9,218.8 840.0,221.2 846.2,220.6 851.2,218.8 853.1,212.5 860.0,210.6 865.0,210.0 867.0,211.5Z" fill="#46894f"/>
<path d="M809.4,174.7 834.1,193.3 846.0,179.9 813.8,160.3 810.1,164.7Z" fill="#46894f"/>
<path d="M855.4,176.0 865.5,180.3 886.6,164.4 883.1,162.5 884.4,153.8 887.5,147.5 888.1,142.5 889.8,138.4 888.0,138.8 886.8,136.2 886.6,134.3 886.2,134.0 880.0,135.0 872.5,136.2 863.8,135.6 857.5,137.5 855.6,143.8 855.0,148.8 853.8,150.6 850.4,152.0Z" fill="#46894f"/>
<path d="M846.0,179.9 855.4,176.0 850.4,152.0 847.5,153.1 842.5,155.6 837.5,153.1 830.0,151.2 822.5,150.6 817.3,148.5 813.8,160.3Z" fill="#46894f"/>
<path d="M872.3,197.5 867.0,211.5 870.0,213.8 872.5,219.4 877.5,223.8 882.5,229.4 890.0,228.8 898.8,227.5 905.0,223.8 908.1,220.6 908.1,215.0 905.0,208.8 903.1,203.8 906.3,199.5Z" fill="#46894f"/>
<path d="M872.3,197.5 906.3,199.5 906.9,198.8 908.0,197.7 905.5,169.2 902.5,170.0 896.2,168.8 890.0,166.2 886.6,164.4 865.5,180.3Z" fill="#46894f"/>
<path d="M908.0,197.7 910.6,195.0 915.0,197.5 922.5,202.5 928.8,205.6 926.9,208.1 927.9,209.2 935.4,202.2 936.2,200.0 935.0,199.0 935.0,190.0 936.2,181.2 935.6,175.0 934.4,167.5 932.5,161.9 926.2,160.6 924.4,157.5 923.4,154.4 922.5,153.8 921.2,154.4 915.6,155.6 913.1,160.0 911.9,166.2 910.0,168.1 905.5,169.2Z" fill="#46894f"/>
<path d="M927.9,209.2 930.0,211.2 933.8,213.1 936.2,216.2 935.0,221.2 937.5,223.8 941.2,227.5 950.0,223.8 957.5,228.1 962.5,226.2 967.5,227.5 972.5,230.0 973.8,223.8 976.9,216.2 979.4,208.1 976.2,200.6 967.5,204.4 961.2,203.8 950.0,206.9 942.5,208.1 940.0,203.8 935.0,203.1 935.4,202.2Z" fill="#46894f"/>
<path d="M746.3,407.9 743.8,406.9 742.5,401.9 740.0,403.8 735.0,402.5 731.2,396.9 725.0,391.9 715.6,390.6 712.5,387.5 706.0,388.7 703.8,397.5 700.0,415.0 696.2,427.5 693.2,433.3 697.5,434.4 703.8,435.0 710.0,434.4 717.5,433.1 725.0,435.0 733.8,435.0 736.1,434.6Z" fill="#46894f"/>
<path d="M767.5,449.0 768.1,449.4 766.2,453.8 762.5,458.8 767.5,464.4 766.2,468.8 760.6,473.1 761.1,479.3 761.2,479.5 767.5,480.0 767.5,473.1 773.1,472.5 773.8,468.1 778.8,465.0 781.2,460.0 785.0,458.1 788.8,460.0 788.1,456.9 791.9,455.6 793.8,451.9 798.1,453.8 805.0,452.5 807.5,449.4 811.2,445.6 816.2,445.0 816.9,443.8 810.0,438.8 805.0,432.5 802.5,425.0 797.5,425.0 791.2,427.5 785.0,428.8 782.4,427.9Z" fill="#46894f"/>
<path d="M736.1,434.6 737.5,434.4 742.5,433.8 747.5,437.5 751.2,443.8 758.8,446.2 766.2,448.1 767.5,449.0 782.4,427.9 781.2,427.5 778.8,426.2 777.5,421.2 773.8,419.4 774.4,416.2 771.2,413.8 762.5,414.4 755.0,415.0 749.4,416.2 751.2,411.9 750.0,409.4 746.3,407.9Z" fill="#46894f"/>
<path d="M742.7,194.6 737.9,193.3 738.1,195.0 736.2,200.0 728.8,201.2 727.6,201.7 728.1,206.2 726.9,213.8 727.5,221.2 723.1,226.2 720.0,231.9 722.5,231.9 730.0,233.1 738.8,235.0 745.0,233.8 748.1,227.5 750.0,221.2 753.8,216.2 755.0,210.1Z" fill="#7cc0a8"/>
<path d="M742.7,194.6 755.0,210.1 755.0,210.0 760.0,206.2 765.0,203.8 770.0,203.1 772.5,207.5 778.8,212.5 783.8,215.0 784.5,214.6 786.2,208.8 790.0,202.5 787.0,195.0 785.0,190.0 778.8,185.0 774.4,181.2 775.0,175.2Z" fill="#7cc0a8"/>
<path d="M742.7,194.6 775.0,175.2 775.0,175.0 773.8,167.5 772.5,160.6 772.3,160.6 762.5,163.8 750.0,163.8 735.0,159.5 730.3,161.1 730.0,165.0 734.4,168.8 735.6,175.0 731.2,178.8 728.1,183.1 730.6,186.9 737.5,188.8 737.9,193.3Z" fill="#7cc0a8"/>
<path d="M760.0,312.5 758.1,305.0 756.2,300.0 755.0,293.8 754.4,286.2 755.6,280.0 755.0,272.5 753.1,266.9 747.5,267.5 738.8,268.8 732.5,270.0 729.9,272.4 730.0,272.5 732.5,278.8 735.0,287.5 735.6,297.5 736.2,300.0 730.0,302.5 732.5,307.5 740.0,311.9 746.2,315.6 750.6,318.8 755.0,315.0 758.5,315.2Z" fill="#7cc0a8"/>
<path d="M797.9,265.2 798.8,266.2 797.5,270.0 791.8,272.3 790.5,274.0 788.8,277.5 785.2,283.4 785.0,284.4 786.2,290.0 791.2,295.0 793.8,301.2 802.5,301.9 812.5,300.6 817.5,299.4 823.8,301.2 827.5,300.6 825.6,295.0 823.8,286.2 823.8,278.8 821.9,271.2 815.0,267.5 817.5,263.8 818.9,263.3ZM828.9,299.2 827.5,300.6 829.0,300.0Z" fill="#7cc0a8"/>
<path d="M818.9,263.3 823.8,261.9 825.5,256.4 810.8,224.0 806.2,226.2 800.0,228.1 795.0,225.0 790.0,222.5 786.2,221.2 785.0,226.2 783.8,232.5 780.0,238.8 781.0,241.0 782.9,242.4 783.8,242.5 790.0,247.5 792.5,253.8 793.7,259.6 793.9,260.2 797.9,265.2Z" fill="#7cc0a8"/>
<path d="M825.5,256.4 825.6,256.2 827.5,254.3 827.8,253.0 826.2,248.8 831.2,246.2 836.2,246.9 842.5,251.2 848.4,251.2 848.8,250.0 850.0,245.0 847.5,240.0 851.2,236.2 853.8,232.5 855.0,226.2 851.2,218.8 846.2,220.6 840.0,221.2 836.9,218.8 835.0,214.4 831.2,213.1 824.7,213.6 822.0,214.0 820.2,214.9 820.0,216.2 816.9,221.2 811.2,223.8 810.8,224.0Z" fill="#7cc0a8"/>
<path d="M924.3,155.0 924.2,155.0 923.4,154.4 924.3,157.2ZM920.5,152.5 913.0,146.2 906.8,136.2 904.2,128.8 900.5,136.2 888.0,138.8 889.8,138.4 888.1,142.5 887.5,147.5 887.0,148.5 887.0,164.6 890.0,166.2 896.2,168.8 902.5,170.0 910.0,168.1 911.9,166.2 913.1,160.0 915.6,155.6 921.2,154.4 922.5,153.8 923.1,154.2Z" fill="#7cc0a8"/>
<path d="M930.0,160.0 930.0,161.4 932.5,161.9 934.4,167.5 935.6,175.0 936.2,181.2 935.0,190.0 935.0,199.0 936.2,200.0 935.0,203.1 940.0,203.8 942.5,208.1 950.0,206.9 961.2,203.8 967.5,204.4 976.2,200.6 976.9,202.2 978.0,200.0 975.0,197.5 967.5,193.8 960.0,190.0 955.0,187.5 950.0,183.8 942.5,178.8 940.0,173.8 941.2,167.5 938.8,161.2 937.0,155.8 934.9,154.8 934.1,154.5 928.0,156.2 924.5,155.1 924.5,157.7 924.8,158.1Z" fill="#7cc0a8"/>
<path d="M892.1,228.5 890.0,228.8 883.3,229.3 884.0,230.0 893.0,233.0 890.0,238.0 888.0,248.0 890.5,260.5 898.0,268.0 901.0,272.5 908.5,276.2 914.8,275.0 923.5,272.5 927.2,267.5 931.0,258.8 929.8,251.2 929.0,244.4 926.2,243.8 927.2,242.8Z" fill="#7cc0a8"/>
<path d="M927.2,242.8 930.0,240.0 936.2,238.8 935.0,235.0 938.8,231.2 941.2,227.5 937.5,223.8 935.0,221.2 936.2,216.2 933.8,213.1 930.0,211.2 926.9,208.1 928.8,205.6 922.5,202.5 915.0,197.5 910.6,195.0 906.9,198.8 903.1,203.8 905.0,208.8 908.1,215.0 908.1,220.6 905.0,223.8 898.8,227.5 892.1,228.5Z" fill="#7cc0a8"/>
<path d="M911.0,320.0 917.2,328.8 926.0,330.0 930.4,325.6 937.2,332.5 940.4,336.2 943.5,332.5 944.8,321.2 945.4,316.2 949.8,312.5 951.0,307.5 955.4,302.5 954.8,300.0 951.0,300.6 946.0,306.2 939.1,305.0 932.2,306.2 923.5,296.9 914.8,297.5 912.2,307.5Z" fill="#7cc0a8"/>
<path d="M754.8,375.0 752.5,375.0 750.0,371.2 751.9,363.8 750.0,358.1 749.7,357.8 746.2,360.6 742.5,358.8 737.5,355.0 736.2,351.9 730.0,349.4 726.9,347.5 722.5,341.2 716.9,336.5 713.5,336.9 713.8,338.0 711.2,348.0 710.0,363.0 708.8,375.0 707.5,378.8 706.2,387.5 705.1,392.0 706.0,388.7 712.5,387.5 715.6,390.6 725.0,391.9 731.2,396.9 734.9,402.3Z" fill="#7cc0a8"/>
<path d="M734.9,402.3 735.0,402.5 740.0,403.8 742.5,401.9 743.8,406.9 750.0,409.4 751.2,411.9 749.4,416.2 755.0,415.0 762.5,414.4 771.2,413.8 772.3,414.6 772.5,414.4 774.4,411.2 778.1,405.0 780.0,400.0 783.1,396.9 783.8,392.5 785.0,388.8 782.5,387.5 778.1,386.2 775.0,383.1 768.8,383.8 762.5,382.5 760.0,378.1 758.8,375.0 754.8,375.0Z" fill="#7cc0a8"/>
<path d="M735.0,458.8 740.0,453.8 742.5,448.8 743.8,442.5 742.5,437.5 739.9,434.1 737.5,434.4 733.8,435.0 725.0,435.0 717.5,433.1 710.0,434.4 703.8,435.0 697.5,434.4 693.2,433.3 693.3,433.1 693.0,433.8 682.5,440.0 691.2,446.2 693.8,456.2 705.0,458.8 715.0,465.0 723.8,471.2 731.6,470.1 732.5,463.8Z" fill="#7cc0a8"/>
<path d="M805.6,431.2 807.0,435.1 810.0,438.8 816.9,443.8 816.5,444.6 820.0,446.9 826.2,444.4 835.0,445.0 838.8,443.8 838.1,440.0 839.4,436.2 844.4,435.6 848.8,433.1 847.5,431.2 840.0,430.6 836.2,426.2 832.5,418.8 828.1,412.5 821.9,409.4 813.8,410.6 806.2,413.1 802.5,420.6 802.5,425.0Z" fill="#7cc0a8"/>
<path d="M807.5,453.8 810.0,457.5 815.0,461.2 816.2,467.5 813.0,472.5 818.0,477.5 824.2,482.5 828.0,478.8 835.5,473.8 843.0,475.0 850.0,476.0 854.2,474.8 854.2,470.0 858.0,460.0 861.9,456.9 853.8,454.4 847.5,452.5 841.9,453.1 836.9,450.0 835.0,445.0 826.2,444.4 820.0,446.9 816.6,444.3 816.2,445.0 813.2,445.4 811.2,446.2 808.0,449.0Z" fill="#7cc0a8"/>
<path d="M911.8,425.7 910.6,431.2 905.6,432.5 903.8,438.1 898.3,442.5 908.0,443.8 910.5,447.5 918.0,448.8 924.2,446.2 933.0,448.8 938.0,453.8 948.0,455.5 948.6,455.7 950.0,450.0 948.8,442.5 948.1,435.0 949.8,430.4Z" fill="#7cc0a8"/>
<path d="M949.8,430.4 950.0,430.0 946.2,426.2 942.5,421.2 940.0,414.4 936.2,408.8 931.2,406.2 926.2,402.5 921.2,403.1 915.0,406.2 913.1,401.9 910.6,402.5 911.9,406.2 913.1,411.9 916.9,416.9 915.6,420.0 912.5,422.5 911.8,425.7Z" fill="#7cc0a8"/>
<path d="M827.4,385.8 820.3,372.7 797.3,366.0 797.5,366.2 798.1,372.5 794.4,378.8 790.0,383.8 785.0,386.9 783.2,387.9 785.0,388.7 785.0,388.7 785.0,388.7 785.0,388.7 785.0,388.7 785.0,388.7 785.0,388.7 785.0,388.7 785.0,388.7 785.0,388.7 785.0,388.7 785.0,388.7 785.0,388.8 785.0,388.8 785.0,388.8 785.0,388.8 783.8,392.5 783.1,396.9 783.1,396.9 783.1,396.9 783.1,396.9 783.1,396.9 783.1,396.9 783.1,396.9 783.1,396.9 780.0,400.0 785.0,400.6 788.8,402.5 793.8,405.0 798.8,403.8 805.0,401.9 813.1,402.5 814.4,407.5 813.2,410.8 813.7,410.6 813.7,410.6 813.7,410.6 815.7,410.3Z" fill="#edf6f9"/>
<path d="M810.8,333.6 800.5,301.8 793.7,301.3 793.7,301.3 793.7,301.3 793.7,301.3 793.7,301.3 793.7,301.3 793.7,301.3 793.7,301.3 793.7,301.3 793.7,301.3 791.2,303.1 785.0,305.6 780.0,308.8 780.6,313.8 780.9,319.1 783.1,321.9 783.1,321.9 783.1,321.9 783.1,321.9 783.1,321.9 783.1,321.9 783.1,321.9 783.1,321.9 783.1,321.9 783.1,321.9 783.1,321.9 783.1,321.9 783.1,321.9 783.1,321.9 783.1,321.9 783.1,321.9 780.0,325.0 776.3,330.6 776.3,330.6 776.3,330.6 776.3,330.6 774.3,332.4 773.8,333.8 777.5,337.5 786.2,341.2 790.0,345.0 792.8,347.8Z" fill="#edf6f9"/>
<path d="M810.8,333.6 836.2,337.6 836.2,335.0 833.8,330.0 836.2,326.2 838.8,321.2 838.1,315.6 836.2,311.2 831.2,306.9 828.8,301.9 828.8,300.1 827.5,300.6 827.5,300.6 827.5,300.6 827.5,300.6 827.5,300.6 827.5,300.6 827.5,300.6 827.5,300.6 827.5,300.6 827.5,300.6 827.5,300.6 823.8,301.3 823.8,301.3 823.7,301.3 823.7,301.3 823.7,301.3 823.7,301.3 817.5,299.4 812.5,300.6 812.5,300.6 802.5,301.9 802.5,301.9 802.5,301.9 800.5,301.8Z" fill="#edf6f9"/>
<path d="M820.3,372.7 827.4,385.8 849.8,385.8 861.1,373.4 858.8,350.4 856.2,350.6 851.2,353.1 847.5,350.0 840.0,347.5 836.9,343.4Z" fill="#edf6f9"/>
<path d="M836.9,343.4 836.2,342.5 836.2,337.6 810.8,333.6 792.8,347.8 793.8,348.8 792.5,355.0 794.4,361.2 797.3,366.0 820.3,372.7Z" fill="#edf6f9"/>
<path d="M882.9,381.0 861.1,373.4 849.8,385.8 865.0,422.4 867.5,418.8 865.0,415.0 864.4,412.5 872.5,411.2 880.0,410.6 885.0,407.5 886.2,402.5 887.5,398.1 890.3,400.5Z" fill="#edf6f9"/>
<path d="M861.1,373.4 882.9,381.0 903.3,356.0 882.5,347.8 878.8,350.0 873.8,351.2 868.8,349.4 862.5,350.0 858.8,350.4Z" fill="#edf6f9"/>
<path d="M849.8,385.8 827.4,385.8 815.7,410.3 821.9,409.4 821.9,409.4 821.9,409.4 821.9,409.4 821.9,409.4 821.9,409.4 821.9,409.4 828.1,412.5 828.1,412.5 828.1,412.5 828.1,412.5 828.1,412.5 828.1,412.5 832.5,418.7 832.5,418.7 832.5,418.7 836.3,426.2 840.0,430.6 847.5,431.2 847.5,431.2 847.5,431.2 847.5,431.2 847.5,431.2 847.5,431.2 847.5,431.2 847.5,431.2 847.5,431.2 847.5,431.2 848.0,432.0 848.8,431.0 853.1,432.5 855.0,430.0 858.8,426.2 865.0,422.5 865.0,422.4ZM846.0,434.7 844.4,435.6 844.4,435.6 844.4,435.6 844.4,435.6 844.4,435.6 844.4,435.6 845.0,436.0Z" fill="#edf6f9"/>
<path d="M903.3,356.0 882.9,381.0 890.3,400.5 891.2,401.2 897.5,402.5 902.5,401.2 908.8,401.2 911.0,401.0 911.0,393.8 914.1,381.2 916.6,371.2 914.1,358.8 914.6,353.5Z" fill="#edf6f9"/>
<path d="M903.3,356.0 914.6,353.5 914.8,352.5 911.9,350.0 912.5,345.0 908.8,343.1 902.5,338.8 898.8,335.0 898.1,328.8 896.2,322.5 895.6,316.2 896.9,311.2 892.5,312.5 886.2,311.9 881.2,309.4 878.8,312.5 878.8,318.8 876.2,323.8 875.6,328.8 877.5,335.0 881.2,341.2 883.1,347.5 882.5,347.8Z" fill="#edf6f9"/>
<path d="M954.4,298.3 953.5,294.0 954.8,290.0 958.5,282.5 958.5,282.4 932.5,258.8 931.0,258.8 931.0,258.8 931.0,258.8 931.0,258.8 931.0,258.8 931.0,258.8 928.7,264.2 927.2,270.0 924.1,275.0 927.2,280.0 928.5,282.0 927.2,287.5 929.1,293.8 924.1,296.9 926.0,297.5 932.2,304.0 939.0,303.0 946.0,304.0 949.2,302.6 951.0,300.6 951.0,300.6 951.0,300.6 951.0,300.6 951.0,300.6 951.0,300.6 951.0,300.6 951.0,300.6 951.9,300.5Z" fill="#edf6f9"/>
<path d="M984.1,394.5 937.2,396.7 938.5,400.0 944.8,403.8 942.2,407.5 938.0,410.0 939.2,413.1 940.0,414.4 940.0,414.4 940.0,414.4 942.2,420.4 942.9,421.7 946.3,426.2 950.0,430.0 950.0,430.0 950.0,430.0 950.0,430.0 950.0,430.0 950.0,430.0 950.0,430.0 955.0,428.8 960.0,430.0 965.0,426.2 970.0,425.6 975.0,424.4 978.6,423.9Z" fill="#edf6f9"/>
<path d="M984.1,394.5 987.6,391.0 986.0,386.2 989.8,378.8 988.5,372.5 983.5,367.5 980.2,363.3 961.4,361.9 965.4,369.4 958.5,372.5 951.0,377.5 947.2,381.2 942.2,383.8 941.0,391.2 936.0,393.8 937.2,396.7Z" fill="#edf6f9"/>
<path d="M958.5,282.4 962.2,276.2 966.0,271.2 971.0,265.0 976.0,258.8 981.0,251.0 981.0,248.8 982.4,248.7 971.0,243.1 963.5,245.0 954.8,250.0 946.0,255.0 938.5,258.8 932.5,258.8Z" fill="#edf6f9"/>
<path d="M951.9,300.5 954.7,300.0 954.4,298.3ZM981.2,327.8 981.0,327.5 985.4,321.2 983.5,316.2 977.2,307.5 976.0,298.8 971.0,295.6 961.0,297.5 954.8,300.0 954.8,300.0 954.8,300.0 955.4,302.5 955.4,302.5 955.4,302.5 955.4,302.5 955.4,302.5 955.4,302.5 955.4,302.5 955.4,302.5 955.4,302.5 955.4,302.5 955.4,302.5 951.4,307.0 950.9,308.0 949.8,312.5 949.8,312.5 949.8,312.5 949.8,312.5 949.8,312.5 949.8,312.5 949.8,312.5 947.1,314.8 947.0,315.0 945.0,325.0 943.9,329.1 943.7,330.5Z" fill="#edf6f9"/>
<path d="M980.2,363.3 978.5,361.2 983.5,358.8 991.0,352.5 992.2,350.0 991.0,342.5 984.8,332.5 981.2,327.8 943.7,330.5 943.5,332.5 943.5,332.5 943.5,332.5 943.5,332.5 943.5,332.5 943.5,332.5 943.5,332.5 942.7,333.5 942.0,336.0 941.0,340.0 944.8,346.2 951.0,345.0 957.2,347.5 957.9,353.8 961.0,361.2 961.4,361.9Z" fill="#edf6f9"/>
<path d="M984.1,394.5 978.6,423.9 980.0,423.8 985.0,426.2 988.8,431.2 990.0,436.2 987.5,440.0 985.0,443.8 983.1,448.8 983.0,450.8 985.5,447.5 990.5,441.2 993.0,435.0 1000.5,430.0 1008.0,426.2 1011.8,420.0 1016.0,410.0 1014.8,405.0 1004.8,403.8 994.8,400.0 988.5,393.8 987.6,391.0Z" fill="#edf6f9"/>
<path d="M849.2,249.2 858.0,253.0 868.0,256.8 880.5,259.2 889.2,253.8 888.0,248.0 888.0,248.0 888.0,248.0 888.0,248.0 888.0,248.0 890.0,238.0 890.0,238.0 890.0,238.0 890.0,238.0 893.0,233.0 884.0,230.0 884.0,230.0 884.0,230.0 884.0,230.0 884.0,230.0 884.0,230.0 883.3,229.3 882.5,229.4 882.5,229.4 882.5,229.4 882.5,229.4 882.5,229.4 882.5,229.4 882.5,229.4 882.5,229.4 882.5,229.4 882.5,229.4 882.5,229.4 877.5,223.8 872.5,219.4 872.5,219.4 872.5,219.4 872.5,219.4 872.5,219.4 872.1,218.6 857.6,211.3 853.1,212.5 851.3,218.7 855.0,226.2 855.0,226.2 855.0,226.2 855.0,226.2 855.0,226.2 855.0,226.3 855.0,226.3 855.0,226.3 853.8,232.5 853.8,232.5 853.8,232.5 853.8,232.5 853.8,232.5 851.3,236.3 851.3,236.3 851.3,236.3 847.5,240.0 850.0,245.0 850.0,245.0 850.0,245.0 850.0,245.0 850.0,245.0 850.0,245.0 850.0,245.0 850.0,245.0 849.1,248.7Z" fill="#edf6f9"/>
<path d="M980.0,200.0 981.9,192.5 981.2,187.5 976.2,183.8 972.5,178.8 975.0,176.2 980.0,177.5 986.2,178.8 990.0,175.0 991.4,173.6 990.5,173.8 983.0,168.8 975.5,171.2 968.0,167.5 958.0,161.2 948.0,156.2 940.5,157.5 937.0,155.8 938.8,161.2 941.3,167.5 941.3,167.5 941.3,167.5 941.3,167.5 941.3,167.5 941.3,167.5 941.3,167.5 940.0,173.7 942.5,178.7 950.0,183.7 950.0,183.7 955.0,187.5 975.0,197.5 975.0,197.5 975.0,197.5 978.0,200.0 978.0,200.0 978.0,200.0 978.0,200.0 978.0,200.0 978.0,200.0 978.0,200.0 978.0,200.0 978.0,200.0 978.0,200.0 978.0,200.0 978.0,200.0 978.0,200.0 978.0,200.0 978.0,200.0 977.8,200.4Z" fill="#edf6f9"/>
<path d="M817.2,476.7 813.0,472.5 813.0,472.5 813.0,472.5 813.0,472.5 813.0,472.5 813.0,472.5 813.0,472.5 813.0,472.5 813.0,472.5 813.0,472.5 813.0,472.5 813.0,472.5 813.0,472.5 813.0,472.5 813.0,472.5 813.9,471.2 812.0,460.0 811.4,458.6 810.0,457.5 810.0,457.5 810.0,457.5 810.0,457.5 807.5,453.8 807.5,453.8 807.5,453.8 807.5,453.8 807.5,453.8 807.5,453.8 807.5,453.7 807.5,453.7 807.9,450.0 806.7,450.3 805.0,452.5 805.0,452.5 805.0,452.5 805.0,452.5 805.0,452.5 805.0,452.5 805.0,452.5 805.0,452.5 798.1,453.8 798.1,453.8 798.1,453.8 798.1,453.8 798.1,453.8 798.1,453.8 798.1,453.8 796.7,453.1 792.6,454.3 791.9,455.6 791.9,455.6 791.9,455.6 791.9,455.6 791.9,455.6 791.9,455.6 791.9,455.6 791.9,455.6 791.9,455.6 788.1,456.9 788.8,460.0 788.8,460.0 788.8,460.0 788.8,460.0 788.8,460.0 788.8,460.0 788.8,460.0 788.8,460.0 788.8,460.0 788.8,460.0 788.8,460.0 788.8,460.0 788.8,460.0 788.8,460.0 788.8,460.0 788.8,460.0 788.8,460.0 788.8,460.0 788.8,460.0 788.7,460.0 788.7,460.0 788.7,460.0 788.7,460.0 788.7,460.0 785.0,458.1 781.3,460.0 778.8,465.0 778.8,465.0 778.8,465.0 778.8,465.0 778.8,465.0 778.8,465.0 778.8,465.0 773.8,468.1 773.1,472.5 773.1,472.5 773.1,472.5 773.1,472.5 773.1,472.5 773.1,472.5 773.1,472.5 773.1,472.5 773.1,472.5 773.1,472.5 773.1,472.5 773.1,472.5 773.1,472.5 773.1,472.5 768.0,473.1 768.0,478.0 768.8,475.0 775.0,472.5 785.0,477.5 797.5,482.5 810.0,486.2 805.5,490.0 809.7,493.0Z" fill="#edf6f9"/>
<path d="M809.7,493.0 815.5,497.0 833.0,499.5 845.5,493.8 855.5,493.8 856.8,490.0 854.2,480.0 854.2,474.9 853.0,475.2 850.0,476.0 850.0,476.0 850.0,476.0 850.0,476.0 850.0,476.0 849.6,475.9 845.0,477.0 825.0,484.0 822.0,480.7 818.0,477.5 818.0,477.5 817.2,476.7Z" fill="#edf6f9"/>
<path d="M725.0,155.0 727.5,148.8 725.0,145.5 717.5,144.5 708.0,143.0 710.0,150.0 711.2,162.5 713.8,180.0 715.5,193.8 713.9,193.0 715.6,198.7 721.3,200.0 727.5,200.6 727.5,200.6 727.5,200.6 727.5,200.6 727.5,200.6 727.5,200.6 727.5,200.6 727.5,200.6 727.5,200.6 727.5,200.6 727.5,200.6 727.5,200.6 727.5,200.6 727.5,200.6 727.5,200.6 727.5,200.6 727.5,200.6 727.5,200.6 727.5,200.6 727.5,200.6 727.5,200.6 727.5,200.6 727.5,200.6 727.5,200.6 727.5,200.6 727.5,200.6 727.5,200.6 727.5,200.6 727.5,200.6 727.5,200.6 727.6,201.6 728.7,201.2 728.7,201.2 728.7,201.2 728.7,201.2 728.7,201.2 728.7,201.2 736.2,200.0 738.1,195.0 737.5,188.8 730.6,186.9 730.6,186.9 730.6,186.9 730.6,186.9 730.6,186.9 730.6,186.9 730.6,186.9 730.6,186.9 730.6,186.9 730.6,186.9 730.6,186.9 730.6,186.9 730.6,186.9 730.6,186.9 730.6,186.9 730.6,186.9 728.1,183.1 728.1,183.1 728.1,183.1 728.1,183.1 728.1,183.1 728.1,183.1 728.1,183.1 728.1,183.1 728.1,183.1 728.1,183.1 728.1,183.1 728.1,183.1 728.1,183.1 728.1,183.1 728.1,183.1 728.1,183.1 728.1,183.1 728.1,183.1 728.1,183.1 728.1,183.1 728.1,183.1 728.1,183.1 728.1,183.1 728.1,183.1 728.1,183.1 728.1,183.1 731.2,178.7 731.2,178.7 731.2,178.7 731.2,178.7 731.2,178.7 731.2,178.7 735.6,175.0 734.4,168.8 730.0,165.0 730.0,165.0 730.0,165.0 730.0,165.0 730.0,165.0 730.0,165.0 730.0,165.0 730.0,165.0 730.0,165.0 730.0,165.0 730.0,165.0 730.0,165.0 730.0,165.0 730.0,165.0 730.0,165.0 730.0,165.0 730.0,165.0 730.0,165.0 730.0,165.0 730.0,165.0 730.0,165.0 730.0,165.0 730.3,161.1 730.0,161.2Z" fill="#b7dedf"/>
<path d="M740.0,476.2 750.0,478.8 760.0,477.5 761.1,479.2 760.6,473.1 760.6,473.1 760.6,473.1 760.6,473.1 760.6,473.1 760.6,473.1 760.6,473.1 760.6,473.1 760.6,473.1 760.6,473.1 760.6,473.1 760.6,473.1 760.6,473.1 760.6,473.1 760.6,473.1 760.6,473.1 760.6,473.1 760.6,473.1 760.6,473.1 760.6,473.1 760.6,473.1 760.6,473.1 766.2,468.7 767.5,464.4 762.5,458.8 762.5,458.8 762.5,458.8 762.5,458.8 762.5,458.8 762.5,458.8 762.5,458.8 762.5,458.8 762.5,458.8 762.5,458.8 762.5,458.8 762.5,458.8 762.5,458.8 762.5,458.8 762.5,458.8 762.5,458.8 762.5,458.7 762.5,458.7 762.5,458.7 762.5,458.7 762.5,458.7 762.5,458.7 762.5,458.7 762.5,458.7 762.5,458.7 762.5,458.7 762.5,458.7 762.5,458.7 762.5,458.7 762.5,458.7 766.2,453.7 768.1,449.4 766.2,448.1 758.7,446.3 758.7,446.3 758.7,446.3 758.7,446.3 751.2,443.8 751.2,443.8 751.2,443.8 751.2,443.8 751.2,443.8 751.2,443.8 751.2,443.8 751.2,443.8 751.2,443.8 751.2,443.8 751.2,443.8 751.2,443.8 751.2,443.8 751.2,443.8 751.2,443.8 751.2,443.8 747.5,437.5 742.5,433.8 739.9,434.1 742.5,437.5 742.5,437.5 742.5,437.5 742.5,437.5 742.5,437.5 742.5,437.5 742.5,437.5 742.5,437.5 742.5,437.5 742.5,437.5 743.8,442.5 743.8,442.5 743.8,442.5 743.8,442.5 743.8,442.5 743.8,442.5 743.8,442.5 743.8,442.5 743.8,442.5 743.8,442.5 743.8,442.5 743.8,442.5 742.5,448.8 742.5,448.8 742.5,448.8 742.5,448.8 742.5,448.8 742.5,448.8 742.5,448.8 742.5,448.8 740.0,453.8 740.0,453.8 740.0,453.8 740.0,453.8 740.0,453.8 740.0,453.8 740.0,453.8 740.0,453.8 735.0,458.8 732.5,463.8 731.7,470.1 732.5,470.0ZM768.0,478.0 768.0,478.0 768.0,478.0 768.0,478.0 768.0,478.0 768.0,478.0 768.0,478.0 768.0,478.0 768.0,478.0 768.0,478.0 768.0,478.0 768.0,478.0 768.0,478.0 768.0,478.0 768.0,473.1 767.5,473.1 767.5,479.9 768.0,478.0Z" fill="#b7dedf"/>
<path d="M844.0,126.1 846.6,101.1 843.0,98.8 840.5,88.2 828.8,90.5 817.5,92.5 812.5,97.5 812.5,110.0 811.2,120.0 809.1,125.4Z" fill="#b7dedf"/>
<path d="M764.6,265.5 759.4,263.1 759.4,263.1 759.4,263.1 759.4,263.1 759.4,263.1 759.4,263.1 759.4,263.1 759.4,263.1 759.4,263.1 759.4,263.1 759.4,263.1 759.4,263.1 759.4,263.1 759.4,263.1 759.4,263.1 759.4,263.1 759.4,263.1 759.4,263.1 759.4,263.1 759.4,263.1 759.4,263.1 759.4,263.1 759.4,263.1 759.4,263.1 759.4,263.1 759.4,263.1 759.4,263.1 759.4,263.1 759.4,263.1 759.4,263.1 759.4,263.1 759.4,263.1 761.2,257.5 761.2,257.5 761.2,257.5 761.2,257.5 763.1,252.0 763.1,252.0 763.1,252.0 763.1,252.0 764.0,250.0 745.9,231.9 745.0,233.8 745.0,233.8 745.0,233.8 745.0,233.8 745.0,233.8 745.0,233.8 745.0,233.8 745.0,233.8 745.0,233.8 745.0,233.8 745.0,233.8 745.0,233.8 745.0,233.8 745.0,233.8 745.0,233.8 745.0,233.8 745.0,233.8 745.0,233.8 745.0,233.8 745.0,233.8 738.8,235.0 738.8,235.0 738.8,235.0 738.8,235.0 738.8,235.0 738.7,235.0 738.7,235.0 738.7,235.0 738.7,235.0 738.7,235.0 730.0,233.1 722.5,231.9 720.0,231.9 721.3,237.5 723.1,242.5 726.9,246.2 726.9,246.2 726.9,246.2 726.9,246.2 726.9,246.2 726.9,246.2 726.9,246.2 726.9,246.2 726.9,246.2 726.9,246.2 726.9,246.2 726.9,246.2 726.9,246.2 726.9,246.2 726.9,246.2 726.9,246.2 726.9,246.2 726.9,246.2 726.9,250.0 726.9,250.0 726.9,250.0 726.9,250.0 726.9,250.0 726.9,250.0 726.9,250.0 726.9,250.0 726.9,250.0 726.9,250.0 726.9,250.0 726.9,250.0 726.9,250.0 726.9,250.0 726.9,250.0 726.9,250.0 723.8,253.8 723.8,253.8 723.8,253.8 723.8,253.8 723.8,253.8 723.8,253.8 723.8,253.8 723.8,253.8 723.8,253.8 723.8,253.8 723.8,253.8 723.8,253.8 717.5,256.3 718.8,263.7 720.0,266.2 726.3,268.7 726.3,268.7 726.3,268.7 726.3,268.7 726.3,268.7 726.3,268.7 726.3,268.7 726.3,268.7 726.3,268.7 726.3,268.7 729.9,272.3 732.5,270.0 732.5,270.0 732.5,270.0 732.5,270.0 732.5,270.0 732.5,270.0 732.5,270.0 732.5,270.0 732.5,270.0 732.5,270.0 732.5,270.0 732.5,270.0 738.7,268.7 738.7,268.7 738.7,268.7 738.7,268.7 747.5,267.5 747.5,267.5 747.5,267.5 747.5,267.5 753.1,266.9 753.1,266.9 753.1,266.9 753.1,266.9 753.1,266.9 753.1,266.9 753.1,266.9 753.1,266.9 753.1,266.9 753.1,266.9 753.1,266.9 753.1,266.9 753.1,266.9 753.1,266.9 753.1,266.9 753.1,266.9 753.1,266.9 753.1,266.9 753.1,266.9 753.1,266.9 753.1,266.9 753.1,266.9 753.1,266.9 753.1,266.9 753.1,266.9 753.1,266.9 753.1,266.9 753.1,266.9 753.1,266.9 753.1,266.9 755.0,272.5Z" fill="#b7dedf"/>
<path d="M755.0,272.5 755.0,272.5 755.0,272.5 755.0,272.5 755.0,272.5 755.0,272.5 755.0,272.5 755.0,272.5 755.0,272.5 755.6,280.0 755.6,280.0 755.6,280.0 755.6,280.0 755.6,280.0 755.6,280.0 755.6,280.0 755.6,280.0 754.4,286.3 755.0,293.7 756.3,300.0 758.1,305.0 758.1,305.0 758.1,305.0 758.1,305.0 760.0,312.5 760.0,312.5 760.0,312.5 760.0,312.5 760.0,312.5 760.0,312.5 760.0,312.5 760.0,312.5 760.0,312.5 760.0,312.5 760.0,312.5 760.0,312.5 760.0,312.5 760.0,312.5 760.0,312.5 760.0,312.5 760.0,312.5 760.0,312.5 758.6,315.2 765.0,315.6 770.0,314.4 770.0,314.4 770.0,314.4 770.0,314.4 770.0,314.4 770.0,314.4 770.0,314.4 770.0,314.4 777.5,315.0 779.4,314.4 779.4,314.4 779.4,314.4 779.4,314.4 779.4,314.4 779.4,314.4 779.4,314.4 779.4,314.4 779.4,314.4 779.4,314.4 779.4,314.4 779.4,314.4 779.4,314.4 779.4,314.4 779.4,314.4 779.4,314.4 779.4,314.4 779.4,314.4 779.4,314.4 779.4,314.4 779.4,314.4 779.4,314.4 779.4,314.4 779.4,314.4 779.4,314.4 779.4,314.4 779.4,314.4 779.4,314.4 779.4,314.4 779.4,314.4 779.4,314.4 779.4,314.4 779.4,314.4 779.4,314.4 780.6,318.7 780.8,319.0 780.6,313.8 780.0,308.8 780.0,308.8 780.0,308.7 780.0,308.7 780.0,308.7 780.0,308.7 780.0,308.7 780.0,308.7 780.0,308.7 780.0,308.7 780.0,308.7 780.0,308.7 785.0,305.6 785.0,305.6 785.0,305.6 791.2,303.1 793.7,301.3 791.2,295.0 786.2,290.0 786.2,290.0 786.2,290.0 786.2,290.0 786.2,290.0 786.2,290.0 786.2,290.0 786.2,290.0 786.2,290.0 786.2,290.0 786.2,290.0 786.2,290.0 786.2,290.0 786.2,290.0 785.0,284.4 785.0,284.4 785.0,284.4 785.0,284.4 785.0,284.4 785.0,284.4 785.0,284.4 785.0,284.4 785.0,284.4 785.0,284.4 785.0,284.4 785.0,284.4 785.2,283.5 785.0,283.8 785.0,283.8 785.0,283.8 785.0,283.8 785.0,283.8 785.0,283.8 785.0,283.8 785.0,283.8 785.0,283.8 785.0,283.8 785.0,283.8 785.0,283.8 785.0,283.8 785.0,283.8 785.0,283.8 785.0,283.8 785.0,283.8 785.0,283.8 785.0,283.8 785.0,283.8 785.0,283.8 785.0,283.8 785.0,283.8 785.0,283.8 785.0,283.8 785.0,283.8 785.0,283.8 785.0,283.8 785.0,283.8 785.0,283.8 785.0,283.8 785.0,283.8 785.0,283.8 785.0,283.8 785.0,283.8 785.0,283.8 785.0,283.8 785.0,283.8 785.0,283.8 785.0,283.8 785.0,283.8 785.0,283.8 785.0,283.8 785.0,283.8 780.0,276.3 775.0,273.8 767.5,272.5 767.5,272.5 767.5,272.5 767.5,272.5 767.5,272.5 767.5,272.5 767.5,272.5 767.5,272.5 767.5,272.5 767.5,272.5 767.5,272.5 767.5,272.5 767.5,272.5 767.5,272.5 767.5,272.5 767.5,272.5 767.5,272.5 767.5,272.5 767.5,272.5 767.5,272.5 767.5,272.5 767.5,272.5 767.5,272.5 767.5,272.5 767.5,272.5 767.5,272.5 766.2,266.3 764.6,265.5ZM793.8,260.0 793.8,260.0 793.7,259.8ZM790.6,273.8 791.7,272.3 791.3,272.5Z" fill="#b7dedf"/>
<path d="M867.8,412.0 864.4,412.5 865.0,415.0 867.5,418.7 867.5,418.7 867.5,418.7 867.5,418.7 867.5,418.7 867.5,418.7 867.5,418.8 867.5,418.8 867.5,418.8 867.5,418.8 867.5,418.8 867.5,418.8 867.5,418.8 865.0,422.5 865.0,422.5 865.0,422.5 865.0,422.5 865.0,422.5 865.0,422.5 858.8,426.3 855.0,430.0 853.1,432.5 853.1,432.5 853.1,432.5 853.1,432.5 853.1,432.5 853.1,432.5 853.1,432.5 853.1,432.5 853.1,432.5 853.1,432.5 853.1,432.5 853.1,432.5 853.1,432.5 853.1,432.5 848.8,431.0 848.0,432.0 848.8,433.1 848.8,433.1 848.8,433.1 848.8,433.1 848.8,433.1 848.8,433.1 848.8,433.1 848.8,433.1 848.8,433.1 848.8,433.1 848.8,433.1 848.8,433.1 848.8,433.1 848.8,433.1 848.8,433.1 848.8,433.1 848.8,433.1 848.8,433.1 848.8,433.1 848.8,433.1 848.8,433.1 848.8,433.1 848.8,433.1 848.8,433.1 848.8,433.1 848.8,433.1 848.8,433.1 848.8,433.1 848.8,433.1 848.8,433.1 848.8,433.1 848.8,433.1 848.8,433.1 848.8,433.1 848.8,433.1 848.8,433.1 846.0,434.7 845.0,436.0 845.0,436.0 845.0,436.0 845.0,436.0 845.0,436.0 845.0,436.0 845.0,436.0 845.0,436.0 845.0,436.0 845.0,436.0 845.0,436.0 845.0,436.0 845.0,436.0 845.0,436.0 845.0,436.0 845.0,436.0 844.4,435.6 839.4,436.3 838.1,440.0 838.8,443.7 838.8,443.7 838.8,443.7 838.8,443.7 838.8,443.8 838.8,443.8 838.8,443.8 838.8,443.8 838.8,443.8 838.8,443.8 838.8,443.8 838.8,443.8 838.8,443.8 838.8,443.8 838.8,443.8 838.8,443.8 838.8,443.8 838.8,443.8 838.8,443.8 838.8,443.8 838.8,443.8 838.8,443.8 838.8,443.8 838.8,443.8 838.8,443.8 838.8,443.8 838.8,443.8 838.8,443.8 838.8,443.8 838.8,443.8 835.0,445.0 836.9,450.0 841.9,453.1 847.5,452.5 847.5,452.5 847.5,452.5 847.5,452.5 847.5,452.5 847.5,452.5 847.5,452.5 847.5,452.5 847.5,452.5 847.5,452.5 853.8,454.4 861.9,456.9 861.9,456.9 861.9,456.9 861.9,456.9 861.9,456.9 861.9,456.9 861.9,456.9 861.9,456.9 861.9,456.9 861.9,456.9 861.9,456.9 861.9,456.9 861.9,456.9 861.9,456.9 864.2,455.0 873.0,452.5 883.0,446.2 889.5,441.9ZM813.5,468.7 813.9,471.1 816.2,467.5 815.4,463.3ZM853.4,475.1 854.2,474.9 854.2,474.9 854.2,474.9 854.2,474.9 854.2,474.8ZM825.0,484.0 845.0,477.0 845.0,477.0 849.5,475.9 843.0,475.0 843.0,475.0 843.0,475.0 843.0,475.0 835.5,473.8 828.0,478.8 824.3,482.5 824.3,482.5 824.3,482.5 824.3,482.5 824.3,482.5 824.3,482.5 824.3,482.5 824.3,482.5 824.3,482.5 824.3,482.5 824.3,482.5 824.3,482.5 824.3,482.5 824.3,482.5 824.3,482.5 824.3,482.5 824.3,482.5 824.2,482.5 824.2,482.5 824.2,482.5 824.2,482.5 824.2,482.5 824.2,482.5 824.2,482.5 824.2,482.5 824.2,482.5 824.2,482.5 824.2,482.5 824.2,482.5 824.2,482.5 824.2,482.5 824.2,482.5 822.0,480.8Z" fill="#b7dedf"/>
<path d="M785.0,386.9 790.0,383.7 794.4,378.7 798.1,372.5 797.5,366.3 794.4,361.3 794.4,361.3 794.4,361.3 794.4,361.3 792.5,355.0 792.5,355.0 792.5,355.0 792.5,355.0 792.5,355.0 792.5,355.0 793.7,348.8 786.2,341.3 777.5,337.5 777.5,337.5 777.5,337.5 777.5,337.5 777.5,337.5 773.7,333.8 773.7,333.8 773.7,333.8 773.7,333.8 773.7,333.8 773.7,333.8 773.7,333.8 773.7,333.8 773.7,333.8 773.7,333.7 773.7,333.7 773.7,333.7 773.7,333.7 774.3,332.4 770.0,336.3 767.5,341.3 767.5,341.3 767.5,341.3 767.5,341.3 767.5,341.3 767.5,341.3 767.5,341.3 767.5,341.3 761.3,347.5 757.5,353.8 757.5,353.8 757.5,353.8 757.5,353.8 757.5,353.8 757.5,353.8 757.5,353.8 757.5,353.8 757.5,353.8 757.5,353.8 757.5,353.8 757.5,353.8 757.5,353.8 757.5,353.8 757.5,353.8 757.5,353.8 752.5,355.6 750.0,357.5 749.7,357.8 750.0,358.1 750.0,358.1 750.0,358.1 750.0,358.1 750.0,358.1 750.0,358.1 750.0,358.1 750.0,358.1 750.0,358.1 750.0,358.1 751.9,363.7 751.9,363.7 751.9,363.7 751.9,363.7 751.9,363.7 751.9,363.7 751.9,363.7 751.9,363.7 751.9,363.8 751.9,363.8 751.9,363.8 751.9,363.8 751.9,363.8 751.9,363.8 750.0,371.2 752.5,375.0 758.8,375.0 758.8,375.0 758.8,375.0 758.8,375.0 758.8,375.0 758.8,375.0 758.8,375.0 758.8,375.0 758.8,375.0 758.8,375.0 758.8,375.0 758.8,375.0 758.8,375.0 758.8,375.0 758.8,375.0 758.8,375.0 758.8,375.0 758.8,375.0 758.8,375.0 758.8,375.0 758.8,375.0 758.8,375.0 758.8,375.0 758.8,375.0 758.8,375.0 758.8,375.0 760.0,378.1 762.5,382.5 768.8,383.7 775.0,383.1 775.0,383.1 775.0,383.1 775.0,383.1 775.0,383.1 775.0,383.1 775.0,383.1 775.0,383.1 775.0,383.1 775.0,383.1 775.0,383.1 775.0,383.1 775.0,383.1 775.0,383.1 775.0,383.1 775.0,383.1 775.0,383.1 775.0,383.1 775.0,383.1 775.0,383.1 778.1,386.2 782.5,387.5 782.5,387.5 782.5,387.5 782.5,387.5 782.5,387.5 782.5,387.5 783.2,387.9Z" fill="#b7dedf"/>
<path d="M838.4,318.2 838.8,321.2 838.8,321.2 838.8,321.3 838.8,321.3 838.8,321.3 838.8,321.3 838.8,321.3 836.3,326.3 836.3,326.3 833.8,330.0 836.3,335.0 836.3,335.0 836.3,335.0 836.3,335.0 836.3,335.0 836.3,335.0 836.3,342.5 840.0,347.5 847.5,350.0 847.5,350.0 847.5,350.0 847.5,350.0 847.5,350.0 851.3,353.1 856.2,350.6 856.2,350.6 856.2,350.6 856.2,350.6 856.2,350.6 868.7,349.4 868.7,349.4 868.8,349.4 868.8,349.4 868.8,349.4 868.8,349.4 873.8,351.2 878.7,350.0 883.1,347.5 881.2,341.3 877.5,335.0 877.5,335.0 877.5,335.0 875.6,328.8 875.6,328.8 875.6,328.8 875.6,328.7 875.6,328.7 876.2,323.7 876.2,323.7 876.2,323.7 876.2,323.7 878.2,319.8Z" fill="#b7dedf"/>
<path d="M764.0,250.0 766.2,245.0 766.2,245.0 766.2,245.0 766.2,245.0 766.2,245.0 766.2,245.0 766.2,245.0 766.2,245.0 766.2,245.0 766.2,245.0 766.2,245.0 766.2,245.0 766.2,245.0 766.2,245.0 766.2,245.0 766.2,245.0 766.2,245.0 766.2,245.0 775.0,241.2 775.0,241.2 775.0,241.2 775.0,241.2 775.0,241.2 775.0,241.2 775.0,241.2 775.0,241.2 775.0,241.2 775.0,241.2 775.0,241.2 775.0,241.2 775.0,241.2 775.0,241.2 782.9,242.4 781.0,241.0 781.0,241.0 781.0,241.0 781.0,241.0 781.0,241.0 781.0,241.0 781.0,241.0 781.0,241.0 781.0,241.0 781.0,241.0 781.0,241.0 781.0,241.0 780.0,238.8 780.0,238.8 780.0,238.8 780.0,238.8 780.0,238.8 780.0,238.8 780.0,238.8 780.0,238.8 780.0,238.8 780.0,238.8 780.0,238.7 780.0,238.7 780.0,238.7 780.0,238.7 780.0,238.7 780.0,238.7 780.0,238.7 780.0,238.7 780.0,238.7 780.0,238.7 780.0,238.7 780.0,238.7 783.7,232.5 785.0,226.2 785.0,226.2 785.0,226.2 785.0,226.2 786.2,221.3 784.4,215.0 784.4,215.0 784.4,215.0 784.4,215.0 784.4,215.0 784.4,215.0 784.4,215.0 784.4,215.0 784.4,215.0 784.4,215.0 784.4,215.0 784.4,215.0 784.4,215.0 784.4,215.0 784.5,214.7 783.8,215.0 783.8,215.0 783.8,215.0 783.8,215.0 783.8,215.0 783.8,215.0 783.8,215.0 783.8,215.0 783.8,215.0 783.8,215.0 783.7,215.0 783.7,215.0 783.7,215.0 783.7,215.0 783.7,215.0 783.7,215.0 783.7,215.0 783.7,215.0 783.7,215.0 783.7,215.0 778.7,212.5 778.7,212.5 778.7,212.5 778.7,212.5 778.7,212.5 778.7,212.5 772.5,207.5 772.5,207.5 772.5,207.5 772.5,207.5 772.5,207.5 772.5,207.5 772.5,207.5 772.5,207.5 772.5,207.5 772.5,207.5 770.0,203.1 765.0,203.8 760.0,206.3 755.0,210.0 753.8,216.3 753.8,216.3 753.8,216.3 753.8,216.3 753.8,216.3 753.8,216.3 753.8,216.3 753.8,216.3 753.8,216.3 753.8,216.3 753.8,216.3 753.8,216.3 750.0,221.3 748.1,227.5 748.1,227.5 748.1,227.5 748.1,227.5 748.1,227.5 748.1,227.5 745.9,231.9ZM822.5,213.8 822.5,213.8 822.5,213.8 820.6,211.9 820.2,214.9 822.0,214.0 822.0,214.0 822.0,214.0 822.0,214.0 822.0,214.0 822.0,214.0 822.0,214.0 822.0,214.0 824.2,213.6 822.5,213.8 822.5,213.8 822.5,213.8 822.5,213.8 822.5,213.8 822.5,213.8 822.5,213.8 822.5,213.8 822.5,213.8 822.5,213.8 822.5,213.8 822.5,213.8 822.5,213.8 822.5,213.8 822.5,213.8 822.5,213.8 822.5,213.8Z" fill="#b7dedf"/>
<path d="M878.2,319.8 878.7,318.7 878.7,312.5 878.7,312.5 878.7,312.5 878.7,312.5 878.7,312.5 878.7,312.5 878.7,312.5 878.7,312.5 881.2,309.4 881.2,309.4 881.2,309.4 881.2,309.4 881.2,309.4 881.2,309.4 881.2,309.4 881.2,309.4 881.2,309.4 881.2,309.4 881.3,309.4 881.3,309.4 881.3,309.4 881.3,309.4 881.3,309.4 884.3,310.9 878.5,290.6 852.6,283.0 847.5,285.0 841.3,288.8 838.8,295.0 838.8,295.0 838.8,295.0 838.8,295.0 838.8,295.0 838.8,295.0 838.8,295.0 838.8,295.0 838.8,295.0 838.8,295.0 838.8,295.0 838.8,295.0 838.8,295.0 838.8,295.0 838.8,295.0 838.8,295.0 838.8,295.0 838.8,295.0 838.8,295.0 838.8,295.0 838.8,295.0 838.8,295.0 831.3,296.9 828.9,299.2 829.0,300.0 829.0,300.0 829.0,300.0 829.0,300.0 829.0,300.0 829.0,300.0 829.0,300.0 829.0,300.0 829.0,300.0 829.0,300.0 829.0,300.0 829.0,300.0 829.0,300.0 829.0,300.0 829.0,300.0 829.0,300.0 829.0,300.0 829.0,300.0 829.0,300.0 829.0,300.0 829.0,300.0 829.0,300.0 829.0,300.0 829.0,300.0 829.0,300.0 829.0,300.0 829.0,300.0 829.0,300.0 829.0,300.0 829.0,300.0 828.8,300.1 828.8,301.9 831.3,306.9 836.3,311.2 836.3,311.2 836.3,311.2 836.3,311.2 836.3,311.2 836.3,311.2 838.1,315.6 838.1,315.6 838.1,315.6 838.1,315.6 838.4,318.2Z" fill="#b7dedf"/>
<path d="M815.4,463.3 815.0,461.3 811.5,458.6 812.0,460.0 812.0,460.0 812.0,460.0 813.5,468.7ZM778.1,405.0 778.1,405.0 778.1,405.0 778.1,405.0 778.1,405.0 774.4,411.3 774.4,411.3 774.4,411.3 774.4,411.3 772.5,414.4 772.5,414.4 772.5,414.4 772.5,414.4 772.5,414.4 772.5,414.4 772.3,414.6 774.4,416.2 774.4,416.2 774.4,416.2 774.4,416.2 774.4,416.2 774.4,416.2 774.4,416.2 774.4,416.2 774.4,416.2 774.4,416.2 774.4,416.2 774.4,416.2 774.4,416.2 774.4,416.2 774.4,416.2 774.4,416.2 774.4,416.2 774.4,416.2 774.4,416.2 774.4,416.3 774.4,416.3 774.4,416.3 774.4,416.3 774.4,416.3 773.8,419.4 777.5,421.2 777.5,421.2 777.5,421.2 777.5,421.2 777.5,421.2 777.5,421.2 777.5,421.2 777.5,421.2 777.5,421.2 777.5,421.2 777.5,421.2 777.5,421.2 777.5,421.2 777.5,421.2 777.5,421.2 777.5,421.2 777.5,421.2 777.5,421.2 777.5,421.2 777.5,421.2 778.8,426.2 781.3,427.5 785.0,428.7 791.2,427.5 797.5,425.0 797.5,425.0 797.5,425.0 797.5,425.0 797.5,425.0 797.5,425.0 797.5,425.0 797.5,425.0 797.5,425.0 797.5,425.0 802.5,425.0 802.5,420.6 802.5,420.6 802.5,420.6 802.5,420.6 802.5,420.6 802.5,420.6 802.5,420.6 802.5,420.6 802.5,420.6 802.5,420.6 802.5,420.6 802.5,420.6 806.2,413.1 806.2,413.1 806.2,413.1 806.2,413.1 806.2,413.1 806.2,413.1 806.2,413.1 806.2,413.1 806.2,413.1 806.2,413.1 806.2,413.1 806.2,413.1 806.2,413.1 806.2,413.1 806.2,413.1 806.2,413.1 806.2,413.1 806.2,413.1 813.2,410.8 814.4,407.5 813.1,402.5 805.0,401.9 798.8,403.8 798.8,403.8 793.8,405.0 793.8,405.0 793.8,405.0 793.7,405.0 793.7,405.0 793.7,405.0 793.7,405.0 793.7,405.0 788.7,402.5 788.7,402.5 785.0,400.6 780.0,400.0 778.1,405.0ZM807.9,450.0 808.0,449.0 808.0,449.0 808.0,449.0 808.0,449.0 808.0,449.0 808.0,449.0 808.0,449.0 808.0,449.0 808.0,449.0 808.0,449.0 808.0,449.0 808.0,449.0 808.0,449.0 808.0,449.0 808.0,449.0 808.0,449.0 808.0,449.0 808.0,449.0 811.2,446.2 811.2,446.2 811.2,446.2 811.2,446.2 811.2,446.2 811.2,446.2 811.2,446.2 811.2,446.2 813.1,445.4 811.3,445.6 807.5,449.4 806.8,450.3ZM805.0,432.5 807.0,434.9 805.6,431.3 802.6,425.3ZM796.6,453.1 793.8,451.9 792.6,454.3Z" fill="#b7dedf"/>
<path d="M878.5,290.6 894.7,264.7 890.5,260.5 890.5,260.5 890.5,260.5 890.5,260.5 890.5,260.5 890.5,260.5 890.5,260.5 890.5,260.5 890.5,260.5 890.5,260.5 890.5,260.5 890.5,260.5 890.5,260.5 890.5,260.5 889.2,253.9 880.5,259.3 880.5,259.3 880.5,259.3 880.5,259.3 880.5,259.3 880.5,259.3 880.5,259.3 880.5,259.3 880.5,259.3 868.0,256.8 868.0,256.8 868.0,256.8 858.0,253.0 858.0,253.0 849.2,249.3 849.2,249.3 849.2,249.3 849.2,249.3 849.2,249.3 849.2,249.3 849.2,249.3 849.2,249.3 849.2,249.3 849.1,248.8 848.5,251.2 848.8,251.2 848.8,251.2 848.8,251.2 848.8,251.2 848.8,251.2 848.8,251.2 848.8,251.2 848.8,251.2 848.8,251.2 848.8,251.2 848.8,251.2 848.8,251.2 848.8,251.2 848.8,251.2 848.8,251.2 848.8,251.2 848.8,251.2 848.8,251.2 848.8,251.2 848.8,251.2 848.8,251.2 848.8,251.2 848.8,251.2 848.8,251.2 848.8,251.2 848.8,251.2 848.8,251.2 848.8,251.2 848.8,251.2 848.8,251.2 848.8,251.2 848.8,251.2 849.4,257.5 852.5,265.0 852.5,265.0 852.5,265.0 852.5,265.0 852.5,265.0 852.5,265.0 854.4,273.7 854.4,273.7 854.4,273.7 854.4,273.7 854.4,273.7 854.4,273.8 854.4,273.8 854.4,273.8 853.8,282.5 853.8,282.5 853.8,282.5 853.8,282.5 853.8,282.5 853.8,282.5 853.8,282.5 853.8,282.5 853.8,282.5 853.8,282.5 853.8,282.5 853.8,282.5 853.8,282.5 853.8,282.5 853.8,282.5 853.8,282.5 853.8,282.5 853.8,282.5 853.8,282.5 853.8,282.5 853.8,282.5 853.8,282.5 853.8,282.5 853.8,282.5 852.6,283.0ZM870.0,213.8 865.0,210.0 860.0,210.6 857.6,211.3 872.1,218.5ZM827.6,254.3 828.1,253.7 827.8,253.0Z" fill="#b7dedf"/>
<path d="M844.0,126.1 809.1,125.4 808.8,126.2 806.3,131.2 806.3,131.2 806.3,131.2 806.3,131.2 806.3,131.2 806.3,131.2 806.3,131.2 806.3,131.2 806.3,131.2 806.3,131.2 806.3,131.2 806.3,131.2 806.3,131.2 806.3,131.2 810.0,137.5 813.8,142.5 813.8,142.5 813.8,142.5 813.8,142.5 813.8,142.5 813.8,142.5 816.3,148.1 822.5,150.6 830.0,151.2 830.0,151.2 830.0,151.2 830.0,151.2 830.0,151.2 830.0,151.2 837.5,153.1 837.5,153.1 837.5,153.1 837.5,153.1 837.5,153.1 837.5,153.1 842.5,155.6 847.5,153.1 847.5,153.1 847.5,153.1 847.5,153.1 853.7,150.6 855.0,148.7 855.6,143.7 855.6,143.7 855.6,143.7 855.6,143.7 855.6,143.7 855.6,143.7 856.2,141.6Z" fill="#b7dedf"/>
<path d="M884.3,310.9 884.6,311.1 912.2,307.8 912.2,307.5 912.2,307.5 912.2,307.5 912.2,307.5 914.7,297.5 914.7,297.5 914.7,297.5 914.7,297.5 914.7,297.5 914.7,297.5 914.7,297.5 914.7,297.5 914.7,297.5 914.7,297.5 914.7,297.5 914.7,297.5 914.7,297.5 914.7,297.5 914.7,297.5 914.7,297.5 914.7,297.5 914.7,297.5 914.7,297.5 914.7,297.5 914.7,297.5 914.7,297.5 914.7,297.5 914.7,297.5 914.7,297.5 914.7,297.5 914.7,297.5 914.7,297.5 923.5,296.9 923.5,296.9 923.5,296.9 923.5,296.9 923.5,296.9 923.5,296.9 923.5,296.9 923.5,296.9 923.5,296.9 923.5,296.9 923.5,296.9 923.5,296.9 923.5,296.9 923.5,296.9 923.5,296.9 923.5,296.9 923.5,296.9 923.5,296.9 923.5,296.9 923.5,296.9 931.6,305.6 945.6,304.0 939.0,303.0 932.3,304.0 932.3,304.0 932.2,304.0 932.2,304.0 932.2,304.0 932.2,304.0 932.2,304.0 932.2,304.0 932.2,304.0 932.2,304.0 932.2,304.0 926.0,297.5 924.1,296.9 924.1,296.9 924.1,296.9 924.1,296.9 924.1,296.9 924.1,296.9 924.1,296.9 924.1,296.9 924.1,296.9 924.1,296.9 924.1,296.9 924.1,296.9 924.1,296.9 924.1,296.9 924.1,296.9 924.1,296.9 924.1,296.9 924.1,296.9 924.1,296.9 924.1,296.9 924.1,296.9 924.1,296.9 924.1,296.9 924.1,296.9 929.1,293.7 927.2,287.5 927.2,287.5 927.2,287.5 927.2,287.5 927.2,287.5 927.2,287.5 928.5,282.0 927.2,280.0 924.1,275.0 924.1,275.0 924.1,275.0 924.1,275.0 924.1,275.0 924.1,275.0 924.1,275.0 924.1,275.0 924.1,275.0 924.1,275.0 924.1,275.0 924.1,275.0 927.2,270.0 927.7,268.0 927.2,267.5 923.5,272.5 923.5,272.5 923.5,272.5 923.5,272.5 923.5,272.5 923.5,272.5 923.5,272.5 923.5,272.5 923.5,272.5 923.5,272.5 923.5,272.5 923.5,272.5 923.5,272.5 923.5,272.5 923.5,272.5 923.5,272.5 914.8,275.0 914.8,275.0 914.8,275.0 914.8,275.0 908.5,276.3 908.5,276.3 908.5,276.3 908.5,276.3 908.5,276.3 908.5,276.3 908.5,276.3 908.5,276.3 908.5,276.3 908.5,276.3 908.5,276.3 908.5,276.3 908.5,276.3 908.5,276.3 908.5,276.3 908.5,276.3 901.0,272.5 901.0,272.5 901.0,272.5 901.0,272.5 901.0,272.5 901.0,272.5 901.0,272.5 901.0,272.5 901.0,272.5 901.0,272.5 901.0,272.5 901.0,272.5 898.0,268.0 894.7,264.7 878.5,290.6ZM948.3,303.6 949.1,302.7 946.3,303.9Z" fill="#b7dedf"/>
<path d="M844.0,126.1 856.2,141.6 857.5,137.5 857.5,137.5 857.5,137.5 857.5,137.5 857.5,137.5 857.5,137.5 857.5,137.5 857.5,137.5 857.5,137.5 857.5,137.5 857.5,137.5 857.5,137.5 857.5,137.5 857.5,137.5 857.5,137.5 857.5,137.5 857.5,137.5 857.5,137.5 857.5,137.5 857.5,137.5 857.5,137.5 857.5,137.5 863.7,135.6 863.7,135.6 863.7,135.6 863.7,135.6 863.7,135.6 863.7,135.6 863.7,135.6 863.8,135.6 863.8,135.6 863.8,135.6 872.5,136.2 880.0,135.0 880.0,135.0 880.0,135.0 880.0,135.0 886.2,134.0 886.2,134.0 886.2,134.0 886.2,134.0 886.3,134.0 886.3,134.0 886.3,134.0 886.3,134.0 886.3,134.0 886.3,134.0 886.3,134.0 886.3,134.0 886.3,134.0 886.3,134.0 886.3,134.0 886.3,134.0 886.3,134.0 886.3,134.0 886.3,134.0 886.3,134.0 886.3,134.0 886.3,134.0 886.6,134.3 885.5,123.8 878.0,120.0 868.0,113.8 860.5,110.0 856.8,101.2 850.5,103.8 846.6,101.1ZM887.0,148.6 884.4,153.8 883.1,162.5 887.0,164.6Z" fill="#b7dedf"/>
<path d="M956.8,460.0 968.0,457.5 981.8,452.5 983.0,450.8 983.0,450.8 983.0,450.8 983.0,450.8 983.0,450.8 983.0,450.8 983.0,450.8 983.0,450.8 983.0,450.8 983.0,450.8 983.0,450.8 983.1,448.7 983.1,448.7 983.1,448.7 983.1,448.7 985.0,443.7 985.0,443.7 985.0,443.7 990.0,436.2 988.7,431.3 985.0,426.3 980.0,423.8 975.0,424.4 970.0,425.6 970.0,425.6 965.0,426.3 960.0,430.0 960.0,430.0 960.0,430.0 960.0,430.0 960.0,430.0 960.0,430.0 960.0,430.0 960.0,430.0 960.0,430.0 960.0,430.0 955.0,428.8 950.0,430.0 950.0,430.0 950.0,430.0 950.0,430.0 948.1,435.0 948.8,442.5 950.0,450.0 950.0,450.0 950.0,450.0 950.0,450.0 950.0,450.0 950.0,450.0 950.0,450.0 950.0,450.0 950.0,450.0 950.0,450.0 948.6,455.7 948.6,455.7 948.6,455.7 950.5,456.2ZM942.3,420.6 942.5,421.2 942.8,421.6Z" fill="#b7dedf"/>
<path d="M933.2,328.4 930.4,325.6 926.0,330.0 926.0,330.0 926.0,330.0 926.0,330.0 926.0,330.0 926.0,330.0 926.0,330.0 926.0,330.0 926.0,330.0 926.0,330.0 926.0,330.0 926.0,330.0 926.0,330.0 926.0,330.0 926.0,330.0 926.0,330.0 926.0,330.0 926.0,330.0 926.0,330.0 926.0,330.0 917.2,328.8 917.2,328.8 917.2,328.8 917.2,328.8 917.2,328.8 917.2,328.8 917.2,328.8 917.2,328.8 917.2,328.8 917.2,328.8 917.2,328.8 917.2,328.8 917.2,328.8 917.2,328.8 917.2,328.8 917.2,328.8 917.2,328.8 917.2,328.8 911.0,320.0 911.0,320.0 911.0,320.0 911.0,320.0 911.0,320.0 911.0,320.0 911.0,320.0 911.0,320.0 911.0,320.0 911.0,320.0 911.0,320.0 911.0,320.0 911.0,320.0 911.0,320.0 911.0,320.0 911.0,320.0 912.2,307.8 884.6,311.1 886.3,311.9 892.5,312.5 896.9,311.2 896.9,311.2 896.9,311.2 896.9,311.2 896.9,311.2 896.9,311.2 896.9,311.2 896.9,311.2 896.9,311.2 896.9,311.2 896.9,311.2 896.9,311.2 896.9,311.2 896.9,311.2 896.9,311.2 896.9,311.2 896.9,311.2 896.9,311.2 896.9,311.2 896.9,311.3 896.9,311.3 896.9,311.3 895.6,316.3 896.3,322.5 898.1,328.7 898.1,328.7 898.1,328.7 898.8,335.0 902.5,338.7 908.8,343.1 912.5,345.0 912.5,345.0 912.5,345.0 912.5,345.0 912.5,345.0 912.5,345.0 912.5,345.0 912.5,345.0 912.5,345.0 912.5,345.0 912.5,345.0 912.5,345.0 912.5,345.0 911.9,350.0 913.6,351.5ZM946.3,303.9 946.0,304.0 946.0,304.0 946.0,304.0 946.0,304.0 946.0,304.0 946.0,304.0 946.0,304.0 945.6,304.0 931.6,305.6 932.3,306.2 939.1,305.0 939.1,305.0 939.1,305.0 939.1,305.0 939.1,305.0 939.1,305.0 939.1,305.0 939.1,305.0 939.1,305.0 939.1,305.0 946.0,306.2 948.3,303.6Z" fill="#b7dedf"/>
<path d="M889.5,441.9 890.5,441.2 893.0,442.5 898.0,442.5 898.3,442.5 898.3,442.5 898.3,442.5 898.3,442.5 898.3,442.5 898.3,442.5 898.3,442.5 898.3,442.5 898.3,442.5 898.3,442.5 898.3,442.5 898.3,442.5 898.3,442.5 898.3,442.5 898.3,442.5 898.3,442.5 898.3,442.5 898.3,442.5 903.7,438.1 905.6,432.5 905.6,432.5 905.6,432.5 905.6,432.5 905.6,432.5 905.6,432.5 905.6,432.5 905.6,432.5 905.6,432.5 905.6,432.5 905.6,432.5 905.6,432.5 905.6,432.5 905.6,432.5 905.6,432.5 905.6,432.5 905.6,432.5 905.6,432.5 905.6,432.5 905.6,432.5 905.6,432.5 905.6,432.5 910.6,431.2 912.5,422.5 912.5,422.5 912.5,422.5 912.5,422.5 912.5,422.5 912.5,422.5 912.5,422.5 912.5,422.5 912.5,422.5 912.5,422.5 912.5,422.5 912.5,422.5 912.5,422.5 912.5,422.5 912.5,422.5 912.5,422.5 915.6,420.0 916.9,416.9 913.1,411.9 913.1,411.9 913.1,411.9 913.1,411.9 913.1,411.9 913.1,411.9 913.1,411.9 913.1,411.9 913.1,411.9 913.1,411.9 911.9,406.3 910.6,402.5 910.6,402.5 910.6,402.5 910.6,402.5 910.6,402.5 910.6,402.5 910.6,402.5 910.6,402.5 910.6,402.5 910.6,402.5 910.6,402.5 910.6,402.5 910.6,402.5 910.6,402.5 910.6,402.5 910.6,402.5 910.6,402.5 910.6,402.5 910.6,402.5 910.6,402.5 910.6,402.5 910.6,402.5 910.6,402.5 910.6,402.5 910.6,402.5 910.6,402.5 910.6,402.5 910.6,402.5 910.6,402.5 910.6,402.5 910.6,402.5 910.6,402.5 910.6,402.5 910.6,402.5 910.6,402.5 910.6,402.5 911.9,402.2 910.7,401.0 908.8,401.3 908.8,401.3 902.5,401.3 897.5,402.5 897.5,402.5 897.5,402.5 897.5,402.5 897.5,402.5 897.5,402.5 891.2,401.3 891.2,401.3 891.2,401.3 891.2,401.3 891.2,401.3 891.2,401.3 887.5,398.1 886.3,402.5 885.0,407.5 885.0,407.5 885.0,407.5 885.0,407.5 885.0,407.5 885.0,407.5 885.0,407.5 885.0,407.5 885.0,407.5 880.0,410.6 880.0,410.6 880.0,410.6 880.0,410.6 880.0,410.6 880.0,410.6 872.5,411.3 867.8,412.0ZM914.2,404.4 915.0,406.2 915.8,405.8Z" fill="#b7dedf"/>
<path d="M927.7,268.0 928.6,264.3 927.3,267.5 927.3,267.5 927.3,267.5 927.3,267.5 927.3,267.5 927.3,267.5 927.2,267.5ZM964.0,226.6 962.5,226.3 957.5,228.1 957.5,228.1 957.5,228.1 957.5,228.1 957.5,228.1 957.5,228.1 957.5,228.1 957.5,228.1 957.5,228.1 957.5,228.1 957.5,228.1 957.5,228.1 957.5,228.1 957.5,228.1 957.5,228.1 957.5,228.1 957.5,228.1 957.5,228.1 957.5,228.1 957.5,228.1 950.0,223.8 941.3,227.5 938.8,231.3 938.8,231.3 938.8,231.3 938.8,231.3 938.8,231.3 938.8,231.3 935.0,235.0 936.3,238.7 936.3,238.7 936.3,238.7 936.3,238.7 936.3,238.7 936.3,238.7 936.3,238.7 936.3,238.8 936.3,238.8 936.3,238.8 936.3,238.8 936.3,238.8 936.3,238.8 936.3,238.8 936.3,238.8 936.3,238.8 936.3,238.8 936.3,238.8 936.3,238.8 936.3,238.8 936.3,238.8 936.3,238.8 936.3,238.8 936.3,238.8 936.3,238.8 936.3,238.8 936.3,238.8 936.3,238.8 936.3,238.8 936.3,238.8 936.3,238.8 936.3,238.8 936.3,238.8 936.3,238.8 936.3,238.8 936.3,238.8 930.0,240.0 926.3,243.7 929.0,244.4 929.0,244.4 929.0,244.4 929.0,244.4 929.0,244.4 929.0,244.4 929.0,244.4 929.0,244.4 929.0,244.4 929.0,244.4 929.0,244.4 929.0,244.4 929.0,244.4 929.0,244.4 929.0,244.4 929.0,244.4 929.0,244.4 929.0,244.4 929.0,244.4 929.0,244.4 929.0,244.4 929.0,244.4 929.0,244.4 929.0,244.4 929.0,244.4 929.0,244.4 929.0,244.4 929.0,244.4 929.8,251.2 931.0,258.7 938.5,258.7 946.0,255.0 963.5,245.0 963.5,245.0 963.5,245.0 963.5,245.0 969.9,243.4Z" fill="#b7dedf"/>
<path d="M913.6,351.5 914.8,352.5 914.8,352.5 914.8,352.5 914.8,352.5 914.8,352.5 914.8,352.5 914.8,352.5 914.8,352.5 914.8,352.5 914.8,352.5 914.8,352.5 914.1,358.7 914.6,361.0 951.6,377.1 958.5,372.5 958.5,372.5 958.5,372.5 965.4,369.4 961.0,361.3 961.0,361.3 957.9,353.8 957.9,353.8 957.9,353.8 957.9,353.8 957.2,347.5 951.0,345.0 944.8,346.3 944.8,346.3 944.8,346.3 944.7,346.3 944.7,346.3 944.7,346.3 944.7,346.3 944.7,346.3 944.7,346.3 944.7,346.3 944.7,346.3 944.7,346.3 944.7,346.3 944.7,346.3 941.0,340.0 941.0,340.0 941.0,340.0 941.0,340.0 941.0,340.0 941.0,340.0 941.0,340.0 941.0,340.0 941.0,340.0 942.0,336.0 942.0,336.0 942.7,333.6 940.4,336.3 940.4,336.3 940.4,336.3 940.4,336.3 940.4,336.3 940.4,336.3 940.4,336.3 940.4,336.3 940.4,336.3 940.4,336.3 940.4,336.3 940.4,336.3 940.4,336.3 940.4,336.3 940.4,336.3 940.4,336.3 940.4,336.3 940.4,336.3 940.4,336.3 940.4,336.3 940.4,336.3 940.4,336.3 940.4,336.3 940.4,336.3 940.4,336.3 940.4,336.3 940.4,336.3 940.4,336.3 940.4,336.3 940.4,336.3 940.4,336.3 940.4,336.3 940.4,336.3 940.4,336.3 940.4,336.3 940.4,336.3 940.4,336.3 940.4,336.3 937.2,332.5 933.2,328.4ZM951.0,307.5 950.9,307.9 951.4,307.1ZM945.0,325.0 947.0,315.0 947.0,315.0 947.0,315.0 947.0,315.0 947.1,314.8 945.4,316.3 944.8,321.3 943.9,328.9Z" fill="#b7dedf"/>
<path d="M911.9,402.2 913.1,401.9 913.1,401.9 913.1,401.9 913.1,401.9 913.1,401.9 913.1,401.9 913.1,401.9 913.1,401.9 913.1,401.9 913.1,401.9 913.1,401.9 913.1,401.9 913.1,401.9 913.1,401.9 913.1,401.9 913.1,401.9 913.1,401.9 913.1,401.9 913.1,401.9 913.1,401.9 913.1,401.9 913.1,401.9 913.1,401.9 913.1,401.9 913.1,401.9 913.1,401.9 913.1,401.9 913.1,401.9 913.1,401.9 913.1,401.9 914.2,404.4 915.8,405.8 921.2,403.1 921.2,403.1 921.2,403.1 921.2,403.1 921.2,403.1 921.2,403.1 921.2,403.1 921.2,403.1 921.2,403.1 921.2,403.1 926.2,402.5 926.2,402.5 926.2,402.5 926.2,402.5 926.3,402.5 926.3,402.5 926.3,402.5 926.3,402.5 926.3,402.5 926.3,402.5 926.3,402.5 926.3,402.5 926.3,402.5 926.3,402.5 926.3,402.5 926.3,402.5 926.3,402.5 926.3,402.5 931.3,406.2 936.3,408.7 936.3,408.7 936.3,408.7 936.3,408.7 936.3,408.7 936.3,408.7 936.3,408.7 936.3,408.7 936.3,408.7 936.3,408.7 936.3,408.7 936.3,408.7 939.1,413.1 938.0,410.0 938.0,410.0 938.0,410.0 938.0,410.0 938.0,410.0 938.0,410.0 938.0,410.0 938.0,410.0 938.0,410.0 938.0,410.0 938.0,410.0 938.0,410.0 938.0,410.0 938.0,410.0 938.0,410.0 942.2,407.5 944.7,403.8 938.5,400.0 938.5,400.0 938.5,400.0 938.5,400.0 938.5,400.0 938.5,400.0 938.5,400.0 938.5,400.0 936.0,393.8 936.0,393.8 936.0,393.8 936.0,393.8 936.0,393.7 936.0,393.7 936.0,393.7 936.0,393.7 936.0,393.7 936.0,393.7 936.0,393.7 936.0,393.7 936.0,393.7 936.0,393.7 936.0,393.7 936.0,393.7 941.0,391.2 942.2,383.7 942.2,383.7 942.2,383.7 942.2,383.7 942.2,383.7 942.2,383.7 942.2,383.7 942.2,383.7 942.2,383.7 942.2,383.7 942.2,383.7 947.2,381.2 951.0,377.5 951.0,377.5 951.0,377.5 951.6,377.1 914.6,361.0 916.6,371.2 916.6,371.2 916.6,371.2 916.6,371.3 916.6,371.3 916.6,371.3 914.1,381.3 911.0,393.8 911.0,401.0 911.0,401.0 911.0,401.0 911.0,401.0 911.0,401.0 911.0,401.0 911.0,401.0 911.0,401.0 911.0,401.0 911.0,401.0 911.0,401.0 911.0,401.0 911.0,401.0 911.0,401.0 911.0,401.0 911.0,401.0 910.7,401.0Z" fill="#b7dedf"/>
<path d="M979.3,208.4 976.9,216.3 976.9,216.3 976.9,216.3 976.9,216.3 973.8,223.8 972.5,230.0 972.5,230.0 972.5,230.0 972.5,230.0 972.5,230.0 972.5,230.0 972.5,230.0 972.5,230.0 972.5,230.0 972.5,230.0 972.5,230.0 972.5,230.0 972.5,230.0 972.5,230.0 972.5,230.0 972.5,230.0 972.5,230.0 972.5,230.0 972.5,230.0 972.5,230.0 972.5,230.0 972.5,230.0 972.5,230.0 972.5,230.0 972.5,230.0 972.5,230.0 972.5,230.0 972.5,230.0 972.5,230.0 972.5,230.0 972.5,230.0 972.5,230.0 972.5,230.0 972.5,230.0 972.5,230.0 972.5,230.0 972.5,230.0 972.5,230.0 972.5,230.0 972.5,230.0 967.5,227.5 964.0,226.6 969.9,243.4 971.0,243.1 971.0,243.1 971.0,243.1 971.0,243.1 971.0,243.1 971.0,243.1 971.0,243.1 971.0,243.1 982.4,248.7 982.4,248.7 982.4,248.7 982.4,248.7 982.4,248.7 982.4,248.7 982.4,248.7 982.4,248.7 982.4,248.7 982.4,248.7 982.4,248.7 982.4,248.7 988.0,248.5 994.0,244.0 996.0,236.0 993.0,228.0 995.5,220.0 994.3,210.4Z" fill="#b7dedf"/>
<path d="M994.3,210.4 994.2,210.0 998.0,197.5 1004.2,185.0 1007.5,176.2 999.2,172.5 991.4,173.6 991.4,173.6 991.4,173.6 991.4,173.6 991.4,173.6 991.4,173.6 991.4,173.6 991.4,173.6 991.4,173.6 991.4,173.6 991.4,173.6 986.3,178.8 986.3,178.8 986.3,178.8 986.3,178.8 986.3,178.8 986.3,178.8 986.3,178.8 986.3,178.8 986.2,178.8 986.2,178.8 986.2,178.8 980.0,177.5 980.0,177.5 975.0,176.3 972.5,178.8 976.3,183.7 981.3,187.5 981.3,187.5 981.3,187.5 981.3,187.5 981.3,187.5 981.3,187.5 981.3,187.5 981.3,187.5 981.3,187.5 981.9,192.5 981.9,192.5 981.9,192.5 981.9,192.5 981.9,192.5 980.0,200.0 980.0,200.0 980.0,200.0 980.0,200.0 980.0,200.0 980.0,200.0 980.0,200.0 980.0,200.0 980.0,200.0 980.0,200.0 980.0,200.0 980.0,200.0 977.8,200.5 976.9,202.2 979.4,208.1 979.4,208.1 979.4,208.1 979.4,208.1 979.4,208.1 979.4,208.1 979.4,208.1 979.4,208.1 979.4,208.1 979.4,208.1 979.4,208.1 979.4,208.1 979.4,208.1 979.4,208.1 979.4,208.1 979.4,208.1 979.3,208.4ZM934.1,154.5 934.8,154.8 934.2,154.5ZM924.3,157.2 924.4,157.5 924.5,157.6 924.5,155.1 924.5,155.1 924.5,155.1 924.5,155.1 924.5,155.1 924.5,155.1 924.5,155.1 924.5,155.1 924.3,155.0ZM924.8,158.1 926.3,160.6 930.0,161.4 930.0,160.0Z" fill="#b7dedf"/>
<path d="M820.6,211.9 822.5,213.8 831.2,213.1 835.0,214.4 837.5,210.0 838.1,203.8 840.0,198.8 841.0,190.0 840.5,181.5 836.5,182.0 836.5,187.0 834.0,193.0 829.0,194.5 824.0,197.0 821.2,203.8Z" fill="#cfcfcf"/>
<path d="M970.6,234.4 970.6,238.8 971.9,242.5 975.0,245.0 976.9,248.8 978.8,246.2 981.2,245.0 978.1,240.0 976.9,236.2 973.8,233.1Z" fill="#46894f"/>
<path d="M703.0,302.3 703.5,303.8 707.0,305.5 711.2,307.3 712.0,306.0 709.0,303.5 705.0,301.6Z" fill="#46894f"/>
<path d="M707.0,314.0 707.6,317.0 709.5,320.0 711.5,324.0 713.8,324.5 713.5,321.0 711.8,317.0 709.3,313.5Z" fill="#46894f"/>
<path d="M656.0,240.5 657.0,243.0 660.0,245.0 662.5,244.5 662.0,242.0 659.0,239.8Z" fill="#46894f"/>
<path d="M683.5,262.5 684.5,265.0 687.5,266.0 688.5,264.5 686.0,262.0Z" fill="#46894f"/>
</g>
</g>
<g fill="#ea3428" filter="url(#soft)">
<circle cx="636.25" cy="199.5" r="6.5"/>
<circle cx="673.75" cy="196.75" r="7.5"/>
<circle cx="672" cy="223" r="7.5"/>
<circle cx="709.5" cy="214.25" r="8.5"/>
<circle cx="722.75" cy="172.5" r="6"/>
<circle cx="751.5" cy="174" r="5.5"/>
<circle cx="765" cy="196.5" r="5.5"/>
<circle cx="739.5" cy="216.75" r="5.5"/>
<circle cx="766" cy="226" r="5"/>
<circle cx="794.25" cy="151" r="5"/>
<circle cx="792.25" cy="175.75" r="6.75"/>
<circle cx="802.25" cy="209.25" r="6"/>
<circle cx="817.25" cy="190" r="6"/>
<circle cx="826.25" cy="178" r="2.5"/>
<circle cx="832.25" cy="188.25" r="4.5"/>
<circle cx="835.25" cy="163.25" r="5"/>
<circle cx="831.25" cy="138" r="5"/>
<circle cx="831.75" cy="113.75" r="5"/>
<circle cx="858.5" cy="116.5" r="5.5"/>
<circle cx="850.25" cy="199.25" r="3.25"/>
<circle cx="868.75" cy="156.25" r="6"/>
<circle cx="900.5" cy="153" r="3.75"/>
<circle cx="889.5" cy="183.75" r="11"/>
<circle cx="923.75" cy="180.75" r="4"/>
<circle cx="947.75" cy="188.5" r="3.5"/>
<circle cx="961.75" cy="176" r="2.75"/>
<circle cx="990" cy="190.25" r="3.75"/>
<circle cx="887.75" cy="213.25" r="7.5"/>
<circle cx="921" cy="221.75" r="3.5"/>
<circle cx="956" cy="215.25" r="5.5"/>
<circle cx="985" cy="228.75" r="4"/>
<circle cx="975" cy="240" r="2.9"/>
<circle cx="704.75" cy="250.5" r="6"/>
<circle cx="740" cy="252" r="5.5"/>
<circle cx="779" cy="260.75" r="5"/>
<circle cx="802.75" cy="245" r="4"/>
<circle cx="832" cy="231.75" r="4.5"/>
<circle cx="836" cy="271.5" r="5"/>
<circle cx="806.25" cy="284.25" r="4.75"/>
<circle cx="714" cy="283.75" r="6.5"/>
<circle cx="744.75" cy="291.75" r="5"/>
<circle cx="770" cy="293" r="3.25"/>
<circle cx="731.25" cy="327.75" r="7"/>
<circle cx="759.25" cy="332.25" r="6.5"/>
<circle cx="793.75" cy="325.75" r="2"/>
<circle cx="820" cy="317.25" r="2.25"/>
<circle cx="814.5" cy="352" r="2.75"/>
<circle cx="775.75" cy="362.75" r="4.5"/>
<circle cx="730.25" cy="373" r="6.5"/>
<circle cx="841" cy="367" r="2.75"/>
<circle cx="869.75" cy="235.5" r="1"/>
<circle cx="868.25" cy="269.25" r="3.5"/>
<circle cx="908" cy="253.5" r="5.5"/>
<circle cx="949" cy="241.5" r="3.1"/>
<circle cx="959.25" cy="263" r="2.25"/>
<circle cx="939.25" cy="285" r="2.5"/>
<circle cx="902.25" cy="290.5" r="4.75"/>
<circle cx="858.25" cy="303" r="4.25"/>
<circle cx="857" cy="335" r="4.5"/>
<circle cx="890.75" cy="334.5" r="3.5"/>
<circle cx="906.5" cy="327" r="3.75"/>
<circle cx="929.5" cy="315.25" r="4.25"/>
<circle cx="965.25" cy="315.25" r="2.5"/>
<circle cx="967.25" cy="342.5" r="2"/>
<circle cx="939" cy="354.5" r="4.25"/>
<circle cx="879.5" cy="363.25" r="3"/>
<circle cx="764.25" cy="397.75" r="6"/>
<circle cx="804.25" cy="387" r="3"/>
<circle cx="869.25" cy="392.75" r="2"/>
<circle cx="841" cy="404.5" r="3.75"/>
<circle cx="792" cy="412.75" r="4.25"/>
<circle cx="719.5" cy="414.25" r="5.5"/>
<circle cx="762" cy="430.5" r="7"/>
<circle cx="822.75" cy="428" r="5"/>
<circle cx="786.75" cy="448" r="6.6"/>
<circle cx="717.75" cy="449" r="7.25"/>
<circle cx="750" cy="461.5" r="3.5"/>
<circle cx="798" cy="470" r="2.25"/>
<circle cx="831" cy="461.75" r="5.5"/>
<circle cx="865.25" cy="438.5" r="5.1"/>
<circle cx="834.75" cy="486.75" r="3"/>
<circle cx="893.75" cy="417.75" r="4"/>
<circle cx="901" cy="380.75" r="2.25"/>
<circle cx="926.5" cy="383.25" r="4.75"/>
<circle cx="964.25" cy="382" r="1.25"/>
<circle cx="928.75" cy="416.5" r="5"/>
<circle cx="965.5" cy="408.75" r="2.4"/>
<circle cx="996.25" cy="414.5" r="1"/>
<circle cx="926" cy="438.75" r="4.75"/>
<circle cx="967.5" cy="441" r="4.5"/>
</g>
</svg>
<div id="leg1">
<div class="t" style="left:0;width:95.6px;text-align:center;top:1.4px">Nombre d'exploitations en</div>
<div class="t" style="left:0;width:95.6px;text-align:center;top:11.2px">délégation par abandon</div>
<div class="sw" style="top:29.7px;background:#fff;border:0.5px solid #e4e4e4;box-sizing:border-box"></div>
<div class="t" style="left:15.7px;top:23.8px">Données couvertes par</div>
<div class="t" style="left:15.7px;top:33.4px">le secret statistique</div>
<div class="sw" style="top:44.7px;background:#ffffb2"></div><div class="t" style="left:15.7px;top:43.9px">[3,60]</div>
<div class="sw" style="top:59.7px;background:#fecc5c"></div><div class="t" style="left:15.7px;top:58.8px">]60,130]</div>
<div class="sw" style="top:74.7px;background:#fd8d3c"></div><div class="t" style="left:15.7px;top:73.8px">]130,200]</div>
<div class="sw" style="top:89.7px;background:#f03b20"></div><div class="t" style="left:15.7px;top:88.9px">]200,280]</div>
<div class="sw" style="top:104.7px;background:#bd0026"></div><div class="t" style="left:15.7px;top:103.9px">Plus de 280</div>
</div>
<div id="leg2">
<div class="t h" style="left:8.5px;top:11.6px">Pourcentage</div>
<div class="t h" style="left:103.5px;top:11.6px">Total</div>
<svg style="position:absolute;left:0;top:0" width="152" height="108" viewBox="509.6 439.6 152 108">
<g stroke="#bcd" stroke-width="0.6">
<rect x="518.5" y="478" width="17.6" height="11.5" fill="#edf8fb"/>
<rect x="518.5" y="489.5" width="17.6" height="11.5" fill="#b2e2e2"/>
<rect x="518.5" y="501" width="17.6" height="11.5" fill="#66c2a4"/>
<rect x="518.5" y="512.5" width="17.6" height="11.5" fill="#238b45"/>
</g>
<g fill="#ff0000">
<circle cx="620.2" cy="485.1" r="7.1"/><circle cx="620.2" cy="499.6" r="4"/><circle cx="620.2" cy="511.1" r="3"/><circle cx="620.2" cy="522.7" r="2.1"/><circle cx="620.2" cy="534" r="0.6"/>
</g>
</svg>
<div class="t n" style="left:33px;top:33.5px">1</div>
<div class="t n" style="left:33px;top:45px">4</div>
<div class="t n" style="left:33px;top:56.6px">7</div>
<div class="t n" style="left:33px;top:68.2px">9</div>
<div class="t n" style="left:33px;top:79.8px">18</div>
<div class="t n" style="left:121.7px;top:41px">1 659</div>
<div class="t n" style="left:121.7px;top:55px">511</div>
<div class="t n" style="left:121.7px;top:66.7px">303</div>
<div class="t n" style="left:121.7px;top:78.3px">151</div>
<div class="t n" style="left:121.7px;top:89.6px">8</div>
</div>
<div id="src" class="t">Source : Chaire Germéa, www-chaire-germea.org, calcul à partir des données du recensement agricole, carte par Khartis</div>
</body>
</html>
